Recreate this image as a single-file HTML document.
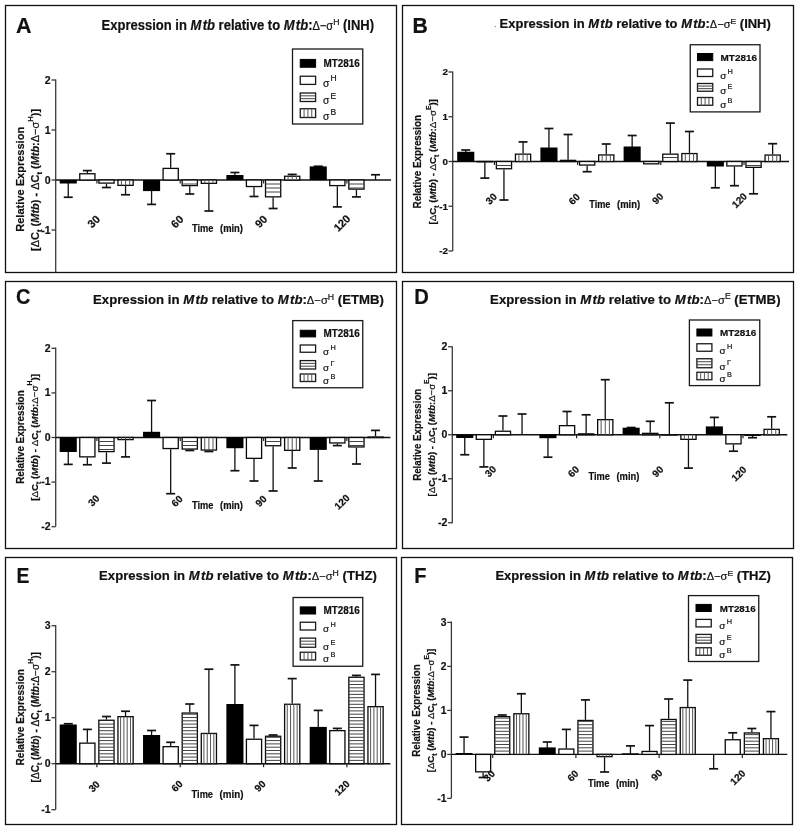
<!DOCTYPE html>
<html><head><meta charset="utf-8"><title>Figure</title>
<style>
html,body{margin:0;padding:0;background:#fff;}
body{width:800px;height:832px;overflow:hidden;}
svg{display:block;filter:blur(0.35px);font-family:"Liberation Sans", sans-serif;}
text{fill:#111;stroke:#111;stroke-width:0.2px;}
</style></head>
<body>
<svg width="800" height="832" viewBox="0 0 800 832">
<rect x="0" y="0" width="800" height="832" fill="#fff"/>
<g>
<rect x="5.50" y="5.50" width="391.00" height="267.00" fill="none" stroke="#111" stroke-width="1.3"/>
<text transform="translate(15.96,33) scale(1.0,1)" font-size="21.5" font-weight="bold">A</text>
<text x="101.6" y="30.4" font-size="14.8" font-weight="bold" textLength="272.5" lengthAdjust="spacingAndGlyphs">Expression in <tspan font-style="italic">M</tspan><tspan font-style="italic" dx="1.48">tb</tspan> relative to <tspan font-style="italic">M</tspan><tspan font-style="italic" dx="1.48">tb</tspan>:<tspan font-weight="normal" font-size="12.58">&#916;&#8722;&#963;</tspan><tspan font-size="9.8" font-weight="normal" dy="-5.18">H</tspan><tspan dy="5.18"> (INH)</tspan></text>
<rect x="292.50" y="49.00" width="70.25" height="75.00" fill="none" stroke="#1a1a1a" stroke-width="1.3"/>
<rect x="300.25" y="59.40" width="15.35" height="7.85" fill="#000" stroke="#000" stroke-width="1"/>
<rect x="300.25" y="76.25" width="15.35" height="8.15" fill="#fff" stroke="#1a1a1a" stroke-width="1.3"/>
<rect x="300.25" y="93.00" width="15.35" height="8.50" fill="#fff" stroke="#1a1a1a" stroke-width="1.3"/>
<line x1="300.25" y1="95.83" x2="315.60" y2="95.83" stroke="#444" stroke-width="1.0"/>
<line x1="300.25" y1="98.67" x2="315.60" y2="98.67" stroke="#444" stroke-width="1.0"/>
<rect x="300.25" y="108.75" width="15.35" height="8.75" fill="#fff" stroke="#1a1a1a" stroke-width="1.3"/>
<line x1="304.09" y1="108.75" x2="304.09" y2="117.50" stroke="#555" stroke-width="1.0"/>
<line x1="307.93" y1="108.75" x2="307.93" y2="117.50" stroke="#555" stroke-width="1.0"/>
<line x1="311.76" y1="108.75" x2="311.76" y2="117.50" stroke="#555" stroke-width="1.0"/>
<text x="323.50" y="67.25" font-size="10" font-weight="bold" font-style="normal" text-anchor="start" textLength="36.3" lengthAdjust="spacingAndGlyphs" >MT2816</text>
<text x="323.10" y="86.70" font-size="10.3" font-weight="normal" font-style="normal" text-anchor="start" >&#963;</text>
<text x="330.40" y="81.40" font-size="8.5" font-weight="normal" font-style="normal" text-anchor="start" >H</text>
<text x="323.10" y="103.80" font-size="10.3" font-weight="normal" font-style="normal" text-anchor="start" >&#963;</text>
<text x="330.40" y="98.50" font-size="8.5" font-weight="normal" font-style="normal" text-anchor="start" >E</text>
<text x="323.10" y="119.80" font-size="10.3" font-weight="normal" font-style="normal" text-anchor="start" >&#963;</text>
<text x="330.40" y="114.50" font-size="8.5" font-weight="normal" font-style="normal" text-anchor="start" >B</text>
<line x1="55.70" y1="79.40" x2="55.70" y2="272.50" stroke="#3a3a3a" stroke-width="1.3"/>
<line x1="51.50" y1="80.00" x2="55.70" y2="80.00" stroke="#3a3a3a" stroke-width="1.3"/>
<text transform="translate(50.7,83.71) scale(0.92,1)" font-size="11.5" font-weight="bold" text-anchor="end">2</text>
<line x1="51.50" y1="130.00" x2="55.70" y2="130.00" stroke="#3a3a3a" stroke-width="1.3"/>
<text transform="translate(50.7,133.71) scale(0.92,1)" font-size="11.5" font-weight="bold" text-anchor="end">1</text>
<line x1="51.50" y1="180.00" x2="55.70" y2="180.00" stroke="#3a3a3a" stroke-width="1.3"/>
<text transform="translate(50.7,183.71) scale(0.92,1)" font-size="11.5" font-weight="bold" text-anchor="end">0</text>
<line x1="51.50" y1="230.00" x2="55.70" y2="230.00" stroke="#3a3a3a" stroke-width="1.3"/>
<text transform="translate(50.7,233.71) scale(0.92,1)" font-size="11.5" font-weight="bold" text-anchor="end">-1</text>
<line x1="55.70" y1="180.00" x2="391.00" y2="180.00" stroke="#111" stroke-width="1.4"/>
<text transform="translate(24.1,179.3) rotate(-90)" text-anchor="middle" font-size="11" font-weight="bold" textLength="105" lengthAdjust="spacingAndGlyphs">Relative Expression</text>
<text transform="translate(39.2,179.9) rotate(-90)" text-anchor="middle" font-size="11" font-weight="bold" textLength="142" lengthAdjust="spacingAndGlyphs">[<tspan font-weight="normal">&#916;</tspan>C<tspan font-size="7.7" dy="2.5">t</tspan><tspan dy="-2.5"> (</tspan><tspan font-style="italic">Mtb</tspan>) - <tspan font-weight="normal">&#916;</tspan>C<tspan font-size="7.7" dy="2.5">t</tspan><tspan dy="-2.5"> (</tspan><tspan font-style="italic">Mtb</tspan>:<tspan font-weight="normal">&#916;&#8722;&#963;</tspan><tspan font-size="7.7" dy="-6.54">H</tspan><tspan dy="6.54">)]</tspan></text>
<line x1="68.25" y1="183.00" x2="68.25" y2="197.25" stroke="#111" stroke-width="1.3"/>
<line x1="63.75" y1="197.25" x2="72.75" y2="197.25" stroke="#111" stroke-width="1.7"/>
<rect x="59.70" y="180.00" width="17.10" height="3.50" fill="#000"/>
<line x1="87.35" y1="173.10" x2="87.35" y2="170.60" stroke="#111" stroke-width="1.3"/>
<line x1="82.85" y1="170.60" x2="91.85" y2="170.60" stroke="#111" stroke-width="1.7"/>
<rect x="79.75" y="173.75" width="15.20" height="6.25" fill="#fff" stroke="#0a0a0a" stroke-width="1.3"/>
<line x1="106.45" y1="183.75" x2="106.45" y2="187.50" stroke="#111" stroke-width="1.3"/>
<line x1="101.95" y1="187.50" x2="110.95" y2="187.50" stroke="#111" stroke-width="1.7"/>
<rect x="98.85" y="180.00" width="15.20" height="3.10" fill="#fff" stroke="#0a0a0a" stroke-width="1.3"/>
<line x1="125.55" y1="186.00" x2="125.55" y2="194.75" stroke="#111" stroke-width="1.3"/>
<line x1="121.05" y1="194.75" x2="130.05" y2="194.75" stroke="#111" stroke-width="1.7"/>
<rect x="117.95" y="180.00" width="15.20" height="5.35" fill="#fff" stroke="#0a0a0a" stroke-width="1.3"/>
<line x1="121.43" y1="180.00" x2="121.43" y2="185.35" stroke="#555" stroke-width="1.0"/>
<line x1="125.55" y1="180.00" x2="125.55" y2="185.35" stroke="#555" stroke-width="1.0"/>
<line x1="129.68" y1="180.00" x2="129.68" y2="185.35" stroke="#555" stroke-width="1.0"/>
<line x1="96.90" y1="180.00" x2="96.90" y2="183.50" stroke="#222" stroke-width="1.2"/>
<line x1="151.58" y1="190.60" x2="151.58" y2="204.40" stroke="#111" stroke-width="1.3"/>
<line x1="147.08" y1="204.40" x2="156.08" y2="204.40" stroke="#111" stroke-width="1.7"/>
<rect x="143.03" y="180.00" width="17.10" height="11.10" fill="#000"/>
<line x1="170.68" y1="167.75" x2="170.68" y2="153.75" stroke="#111" stroke-width="1.3"/>
<line x1="166.18" y1="153.75" x2="175.18" y2="153.75" stroke="#111" stroke-width="1.7"/>
<rect x="163.08" y="168.40" width="15.20" height="11.60" fill="#fff" stroke="#0a0a0a" stroke-width="1.3"/>
<line x1="189.78" y1="186.25" x2="189.78" y2="194.00" stroke="#111" stroke-width="1.3"/>
<line x1="185.28" y1="194.00" x2="194.28" y2="194.00" stroke="#111" stroke-width="1.7"/>
<rect x="182.18" y="180.00" width="15.20" height="5.60" fill="#fff" stroke="#0a0a0a" stroke-width="1.3"/>
<line x1="182.18" y1="184.00" x2="197.38" y2="184.00" stroke="#444" stroke-width="1.0"/>
<line x1="208.88" y1="184.00" x2="208.88" y2="211.00" stroke="#111" stroke-width="1.3"/>
<line x1="204.38" y1="211.00" x2="213.38" y2="211.00" stroke="#111" stroke-width="1.7"/>
<rect x="201.28" y="180.00" width="15.20" height="3.35" fill="#fff" stroke="#0a0a0a" stroke-width="1.3"/>
<line x1="204.75" y1="180.00" x2="204.75" y2="183.35" stroke="#555" stroke-width="1.0"/>
<line x1="208.88" y1="180.00" x2="208.88" y2="183.35" stroke="#555" stroke-width="1.0"/>
<line x1="213.00" y1="180.00" x2="213.00" y2="183.35" stroke="#555" stroke-width="1.0"/>
<line x1="180.23" y1="180.00" x2="180.23" y2="183.50" stroke="#222" stroke-width="1.2"/>
<line x1="234.91" y1="175.50" x2="234.91" y2="172.50" stroke="#111" stroke-width="1.3"/>
<line x1="230.41" y1="172.50" x2="239.41" y2="172.50" stroke="#111" stroke-width="1.7"/>
<rect x="226.36" y="175.00" width="17.10" height="5.00" fill="#000"/>
<line x1="254.01" y1="187.20" x2="254.01" y2="196.50" stroke="#111" stroke-width="1.3"/>
<line x1="249.51" y1="196.50" x2="258.51" y2="196.50" stroke="#111" stroke-width="1.7"/>
<rect x="246.41" y="180.00" width="15.20" height="6.55" fill="#fff" stroke="#0a0a0a" stroke-width="1.3"/>
<line x1="273.11" y1="197.50" x2="273.11" y2="208.50" stroke="#111" stroke-width="1.3"/>
<line x1="268.61" y1="208.50" x2="277.61" y2="208.50" stroke="#111" stroke-width="1.7"/>
<rect x="265.51" y="180.00" width="15.20" height="16.85" fill="#fff" stroke="#0a0a0a" stroke-width="1.3"/>
<line x1="265.51" y1="184.00" x2="280.71" y2="184.00" stroke="#444" stroke-width="1.0"/>
<line x1="265.51" y1="188.00" x2="280.71" y2="188.00" stroke="#444" stroke-width="1.0"/>
<line x1="265.51" y1="192.00" x2="280.71" y2="192.00" stroke="#444" stroke-width="1.0"/>
<line x1="292.21" y1="175.60" x2="292.21" y2="174.40" stroke="#111" stroke-width="1.3"/>
<line x1="287.71" y1="174.40" x2="296.71" y2="174.40" stroke="#111" stroke-width="1.7"/>
<rect x="284.61" y="176.25" width="15.20" height="3.75" fill="#fff" stroke="#0a0a0a" stroke-width="1.3"/>
<line x1="288.08" y1="176.25" x2="288.08" y2="180.00" stroke="#555" stroke-width="1.0"/>
<line x1="292.21" y1="176.25" x2="292.21" y2="180.00" stroke="#555" stroke-width="1.0"/>
<line x1="296.33" y1="176.25" x2="296.33" y2="180.00" stroke="#555" stroke-width="1.0"/>
<line x1="263.56" y1="180.00" x2="263.56" y2="183.50" stroke="#222" stroke-width="1.2"/>
<line x1="318.24" y1="166.90" x2="318.24" y2="166.25" stroke="#111" stroke-width="1.3"/>
<line x1="313.74" y1="166.25" x2="322.74" y2="166.25" stroke="#111" stroke-width="1.7"/>
<rect x="309.69" y="166.40" width="17.10" height="13.60" fill="#000"/>
<line x1="337.34" y1="186.25" x2="337.34" y2="206.90" stroke="#111" stroke-width="1.3"/>
<line x1="332.84" y1="206.90" x2="341.84" y2="206.90" stroke="#111" stroke-width="1.7"/>
<rect x="329.74" y="180.00" width="15.20" height="5.60" fill="#fff" stroke="#0a0a0a" stroke-width="1.3"/>
<line x1="356.44" y1="189.75" x2="356.44" y2="196.90" stroke="#111" stroke-width="1.3"/>
<line x1="351.94" y1="196.90" x2="360.94" y2="196.90" stroke="#111" stroke-width="1.7"/>
<rect x="348.84" y="180.00" width="15.20" height="9.10" fill="#fff" stroke="#0a0a0a" stroke-width="1.3"/>
<line x1="348.84" y1="184.00" x2="364.04" y2="184.00" stroke="#444" stroke-width="1.0"/>
<line x1="348.84" y1="188.00" x2="364.04" y2="188.00" stroke="#444" stroke-width="1.0"/>
<line x1="375.54" y1="180.00" x2="375.54" y2="174.75" stroke="#111" stroke-width="1.3"/>
<line x1="371.04" y1="174.75" x2="380.04" y2="174.75" stroke="#111" stroke-width="1.7"/>
<line x1="346.89" y1="180.00" x2="346.89" y2="183.50" stroke="#222" stroke-width="1.2"/>
<text transform="translate(93.7,221.5) rotate(-45)" text-anchor="middle" dy="3.84" font-size="11" font-weight="bold">30</text>
<text transform="translate(177.2,221.6) rotate(-45)" text-anchor="middle" dy="3.84" font-size="11" font-weight="bold">60</text>
<text transform="translate(261,221.5) rotate(-45)" text-anchor="middle" dy="3.84" font-size="11" font-weight="bold">90</text>
<text transform="translate(341.9,223.1) rotate(-45)" text-anchor="middle" dy="3.84" font-size="11" font-weight="bold">120</text>
<text x="192.00" y="231.50" font-size="10" font-weight="bold" font-style="normal" text-anchor="start" textLength="21.5" lengthAdjust="spacingAndGlyphs" >Time</text>
<text x="220.00" y="231.50" font-size="10" font-weight="bold" font-style="normal" text-anchor="start" textLength="23" lengthAdjust="spacingAndGlyphs" >(min)</text>
</g>
<g>
<rect x="402.50" y="5.50" width="391.00" height="267.00" fill="none" stroke="#111" stroke-width="1.3"/>
<text transform="translate(412.56,32.8) scale(0.985,1)" font-size="21.5" font-weight="bold">B</text>
<text x="499.6" y="28.0" font-size="12.2" font-weight="bold" textLength="271.2" lengthAdjust="spacingAndGlyphs">Expression in <tspan font-style="italic">M</tspan><tspan font-style="italic" dx="1.22">tb</tspan> relative to <tspan font-style="italic">M</tspan><tspan font-style="italic" dx="1.22">tb</tspan>:<tspan font-weight="normal" font-size="10.37">&#916;&#8722;&#963;</tspan><tspan font-size="8.1" font-weight="normal" dy="-4.27">E</tspan><tspan dy="4.27"> (INH)</tspan></text>
<circle cx="495.3" cy="26.6" r="0.7" fill="#777"/>
<rect x="690.25" y="44.75" width="69.75" height="67.15" fill="none" stroke="#1a1a1a" stroke-width="1.3"/>
<rect x="697.50" y="53.50" width="15.25" height="7.10" fill="#000" stroke="#000" stroke-width="1"/>
<rect x="697.50" y="69.00" width="15.25" height="7.50" fill="#fff" stroke="#1a1a1a" stroke-width="1.3"/>
<rect x="697.50" y="83.50" width="15.25" height="7.75" fill="#fff" stroke="#1a1a1a" stroke-width="1.3"/>
<line x1="697.50" y1="86.08" x2="712.75" y2="86.08" stroke="#444" stroke-width="1.0"/>
<line x1="697.50" y1="88.67" x2="712.75" y2="88.67" stroke="#444" stroke-width="1.0"/>
<rect x="697.50" y="97.50" width="15.25" height="7.75" fill="#fff" stroke="#1a1a1a" stroke-width="1.3"/>
<line x1="701.31" y1="97.50" x2="701.31" y2="105.25" stroke="#555" stroke-width="1.0"/>
<line x1="705.12" y1="97.50" x2="705.12" y2="105.25" stroke="#555" stroke-width="1.0"/>
<line x1="708.94" y1="97.50" x2="708.94" y2="105.25" stroke="#555" stroke-width="1.0"/>
<text x="720.60" y="60.60" font-size="9.5" font-weight="bold" font-style="normal" text-anchor="start" textLength="36.3" lengthAdjust="spacingAndGlyphs" >MT2816</text>
<text x="720.20" y="78.80" font-size="9.8" font-weight="normal" font-style="normal" text-anchor="start" >&#963;</text>
<text x="727.50" y="73.80" font-size="7.3" font-weight="normal" font-style="normal" text-anchor="start" >H</text>
<text x="720.20" y="93.55" font-size="9.8" font-weight="normal" font-style="normal" text-anchor="start" >&#963;</text>
<text x="727.50" y="88.55" font-size="7.3" font-weight="normal" font-style="normal" text-anchor="start" >E</text>
<text x="720.20" y="107.55" font-size="9.8" font-weight="normal" font-style="normal" text-anchor="start" >&#963;</text>
<text x="727.50" y="102.55" font-size="7.3" font-weight="normal" font-style="normal" text-anchor="start" >B</text>
<line x1="452.70" y1="71.40" x2="452.70" y2="251.00" stroke="#3a3a3a" stroke-width="1.3"/>
<line x1="448.50" y1="72.00" x2="452.70" y2="72.00" stroke="#3a3a3a" stroke-width="1.3"/>
<text transform="translate(447.9,75.42) scale(1.0,1)" font-size="9.8" font-weight="bold" text-anchor="end">2</text>
<line x1="448.50" y1="116.75" x2="452.70" y2="116.75" stroke="#3a3a3a" stroke-width="1.3"/>
<text transform="translate(447.9,120.17) scale(1.0,1)" font-size="9.8" font-weight="bold" text-anchor="end">1</text>
<line x1="448.50" y1="161.50" x2="452.70" y2="161.50" stroke="#3a3a3a" stroke-width="1.3"/>
<text transform="translate(447.9,164.92) scale(1.0,1)" font-size="9.8" font-weight="bold" text-anchor="end">0</text>
<line x1="448.50" y1="206.25" x2="452.70" y2="206.25" stroke="#3a3a3a" stroke-width="1.3"/>
<text transform="translate(447.9,209.67) scale(1.0,1)" font-size="9.8" font-weight="bold" text-anchor="end">-1</text>
<line x1="448.50" y1="251.00" x2="452.70" y2="251.00" stroke="#3a3a3a" stroke-width="1.3"/>
<text transform="translate(447.9,254.42) scale(1.0,1)" font-size="9.8" font-weight="bold" text-anchor="end">-2</text>
<line x1="452.70" y1="161.50" x2="789.00" y2="161.50" stroke="#111" stroke-width="1.4"/>
<text transform="translate(421.2,161.7) rotate(-90)" text-anchor="middle" font-size="10" font-weight="bold" textLength="93.5" lengthAdjust="spacingAndGlyphs">Relative Expression</text>
<text transform="translate(436.2,161.8) rotate(-90)" text-anchor="middle" font-size="9.5" font-weight="bold" textLength="125.3" lengthAdjust="spacingAndGlyphs">[<tspan font-weight="normal">&#916;</tspan>C<tspan font-size="6.6" dy="2.5">t</tspan><tspan dy="-2.5"> (</tspan><tspan font-style="italic">Mtb</tspan>) - <tspan font-weight="normal">&#916;</tspan>C<tspan font-size="6.6" dy="2.5">t</tspan><tspan dy="-2.5"> (</tspan><tspan font-style="italic">Mtb</tspan>:<tspan font-weight="normal">&#916;&#8722;&#963;</tspan><tspan font-size="6.6" dy="-5.61">E</tspan><tspan dy="5.61">)]</tspan></text>
<line x1="465.75" y1="152.25" x2="465.75" y2="150.00" stroke="#111" stroke-width="1.3"/>
<line x1="461.25" y1="150.00" x2="470.25" y2="150.00" stroke="#111" stroke-width="1.7"/>
<rect x="457.20" y="151.75" width="17.10" height="9.75" fill="#000"/>
<line x1="484.85" y1="162.30" x2="484.85" y2="178.10" stroke="#111" stroke-width="1.3"/>
<line x1="480.35" y1="178.10" x2="489.35" y2="178.10" stroke="#111" stroke-width="1.7"/>
<rect x="477.25" y="161.50" width="15.20" height="0.30" fill="#fff" stroke="#0a0a0a" stroke-width="1.3"/>
<line x1="503.95" y1="169.40" x2="503.95" y2="200.00" stroke="#111" stroke-width="1.3"/>
<line x1="499.45" y1="200.00" x2="508.45" y2="200.00" stroke="#111" stroke-width="1.7"/>
<rect x="496.35" y="161.50" width="15.20" height="7.25" fill="#fff" stroke="#0a0a0a" stroke-width="1.3"/>
<line x1="496.35" y1="165.50" x2="511.55" y2="165.50" stroke="#444" stroke-width="1.0"/>
<line x1="523.05" y1="153.50" x2="523.05" y2="141.90" stroke="#111" stroke-width="1.3"/>
<line x1="518.55" y1="141.90" x2="527.55" y2="141.90" stroke="#111" stroke-width="1.7"/>
<rect x="515.45" y="154.15" width="15.20" height="7.35" fill="#fff" stroke="#0a0a0a" stroke-width="1.3"/>
<line x1="518.92" y1="154.15" x2="518.92" y2="161.50" stroke="#555" stroke-width="1.0"/>
<line x1="523.05" y1="154.15" x2="523.05" y2="161.50" stroke="#555" stroke-width="1.0"/>
<line x1="527.17" y1="154.15" x2="527.17" y2="161.50" stroke="#555" stroke-width="1.0"/>
<line x1="494.40" y1="161.50" x2="494.40" y2="165.00" stroke="#222" stroke-width="1.2"/>
<line x1="548.95" y1="148.00" x2="548.95" y2="128.50" stroke="#111" stroke-width="1.3"/>
<line x1="544.45" y1="128.50" x2="553.45" y2="128.50" stroke="#111" stroke-width="1.7"/>
<rect x="540.40" y="147.50" width="17.10" height="14.00" fill="#000"/>
<line x1="568.05" y1="159.70" x2="568.05" y2="134.50" stroke="#111" stroke-width="1.3"/>
<line x1="563.55" y1="134.50" x2="572.55" y2="134.50" stroke="#111" stroke-width="1.7"/>
<rect x="560.45" y="160.35" width="15.20" height="1.15" fill="#fff" stroke="#0a0a0a" stroke-width="1.3"/>
<line x1="587.15" y1="165.70" x2="587.15" y2="171.70" stroke="#111" stroke-width="1.3"/>
<line x1="582.65" y1="171.70" x2="591.65" y2="171.70" stroke="#111" stroke-width="1.7"/>
<rect x="579.55" y="161.50" width="15.20" height="3.55" fill="#fff" stroke="#0a0a0a" stroke-width="1.3"/>
<line x1="606.25" y1="154.30" x2="606.25" y2="144.00" stroke="#111" stroke-width="1.3"/>
<line x1="601.75" y1="144.00" x2="610.75" y2="144.00" stroke="#111" stroke-width="1.7"/>
<rect x="598.65" y="154.95" width="15.20" height="6.55" fill="#fff" stroke="#0a0a0a" stroke-width="1.3"/>
<line x1="602.12" y1="154.95" x2="602.12" y2="161.50" stroke="#555" stroke-width="1.0"/>
<line x1="606.25" y1="154.95" x2="606.25" y2="161.50" stroke="#555" stroke-width="1.0"/>
<line x1="610.38" y1="154.95" x2="610.38" y2="161.50" stroke="#555" stroke-width="1.0"/>
<line x1="577.60" y1="161.50" x2="577.60" y2="165.00" stroke="#222" stroke-width="1.2"/>
<line x1="632.15" y1="147.00" x2="632.15" y2="135.50" stroke="#111" stroke-width="1.3"/>
<line x1="627.65" y1="135.50" x2="636.65" y2="135.50" stroke="#111" stroke-width="1.7"/>
<rect x="623.60" y="146.50" width="17.10" height="15.00" fill="#000"/>
<rect x="643.65" y="161.50" width="15.20" height="2.35" fill="#fff" stroke="#0a0a0a" stroke-width="1.3"/>
<line x1="670.35" y1="153.50" x2="670.35" y2="123.10" stroke="#111" stroke-width="1.3"/>
<line x1="665.85" y1="123.10" x2="674.85" y2="123.10" stroke="#111" stroke-width="1.7"/>
<rect x="662.75" y="154.15" width="15.20" height="7.35" fill="#fff" stroke="#0a0a0a" stroke-width="1.3"/>
<line x1="662.75" y1="157.50" x2="677.95" y2="157.50" stroke="#444" stroke-width="1.0"/>
<line x1="689.45" y1="152.90" x2="689.45" y2="131.50" stroke="#111" stroke-width="1.3"/>
<line x1="684.95" y1="131.50" x2="693.95" y2="131.50" stroke="#111" stroke-width="1.7"/>
<rect x="681.85" y="153.55" width="15.20" height="7.95" fill="#fff" stroke="#0a0a0a" stroke-width="1.3"/>
<line x1="685.32" y1="153.55" x2="685.32" y2="161.50" stroke="#555" stroke-width="1.0"/>
<line x1="689.45" y1="153.55" x2="689.45" y2="161.50" stroke="#555" stroke-width="1.0"/>
<line x1="693.57" y1="153.55" x2="693.57" y2="161.50" stroke="#555" stroke-width="1.0"/>
<line x1="660.80" y1="161.50" x2="660.80" y2="165.00" stroke="#222" stroke-width="1.2"/>
<line x1="715.35" y1="166.00" x2="715.35" y2="187.80" stroke="#111" stroke-width="1.3"/>
<line x1="710.85" y1="187.80" x2="719.85" y2="187.80" stroke="#111" stroke-width="1.7"/>
<rect x="706.80" y="161.50" width="17.10" height="5.00" fill="#000"/>
<line x1="734.45" y1="166.60" x2="734.45" y2="185.70" stroke="#111" stroke-width="1.3"/>
<line x1="729.95" y1="185.70" x2="738.95" y2="185.70" stroke="#111" stroke-width="1.7"/>
<rect x="726.85" y="161.50" width="15.20" height="4.45" fill="#fff" stroke="#0a0a0a" stroke-width="1.3"/>
<line x1="753.55" y1="168.00" x2="753.55" y2="193.80" stroke="#111" stroke-width="1.3"/>
<line x1="749.05" y1="193.80" x2="758.05" y2="193.80" stroke="#111" stroke-width="1.7"/>
<rect x="745.95" y="161.50" width="15.20" height="5.85" fill="#fff" stroke="#0a0a0a" stroke-width="1.3"/>
<line x1="745.95" y1="165.50" x2="761.15" y2="165.50" stroke="#444" stroke-width="1.0"/>
<line x1="772.65" y1="154.40" x2="772.65" y2="143.70" stroke="#111" stroke-width="1.3"/>
<line x1="768.15" y1="143.70" x2="777.15" y2="143.70" stroke="#111" stroke-width="1.7"/>
<rect x="765.05" y="155.05" width="15.20" height="6.45" fill="#fff" stroke="#0a0a0a" stroke-width="1.3"/>
<line x1="768.52" y1="155.05" x2="768.52" y2="161.50" stroke="#555" stroke-width="1.0"/>
<line x1="772.65" y1="155.05" x2="772.65" y2="161.50" stroke="#555" stroke-width="1.0"/>
<line x1="776.77" y1="155.05" x2="776.77" y2="161.50" stroke="#555" stroke-width="1.0"/>
<line x1="744.00" y1="161.50" x2="744.00" y2="165.00" stroke="#222" stroke-width="1.2"/>
<text transform="translate(491.3,198.8) rotate(-45)" text-anchor="middle" dy="3.49" font-size="10" font-weight="bold">30</text>
<text transform="translate(574.2,199) rotate(-45)" text-anchor="middle" dy="3.49" font-size="10" font-weight="bold">60</text>
<text transform="translate(657.8,198.5) rotate(-45)" text-anchor="middle" dy="3.49" font-size="10" font-weight="bold">90</text>
<text transform="translate(739.4,200.4) rotate(-45)" text-anchor="middle" dy="3.49" font-size="10" font-weight="bold">120</text>
<text x="589.20" y="207.60" font-size="10" font-weight="bold" font-style="normal" text-anchor="start" textLength="21.3" lengthAdjust="spacingAndGlyphs" >Time</text>
<text x="617.00" y="207.60" font-size="10" font-weight="bold" font-style="normal" text-anchor="start" textLength="23.2" lengthAdjust="spacingAndGlyphs" >(min)</text>
</g>
<g>
<rect x="5.50" y="281.50" width="391.00" height="267.00" fill="none" stroke="#111" stroke-width="1.3"/>
<text transform="translate(16.1,304.4) scale(0.93,1)" font-size="21.5" font-weight="bold">C</text>
<text x="93.0" y="304.1" font-size="13" font-weight="bold" textLength="291" lengthAdjust="spacingAndGlyphs">Expression in <tspan font-style="italic">M</tspan><tspan font-style="italic" dx="1.30">tb</tspan> relative to <tspan font-style="italic">M</tspan><tspan font-style="italic" dx="1.30">tb</tspan>:<tspan font-weight="normal" font-size="11.05">&#916;&#8722;&#963;</tspan><tspan font-size="8.6" font-weight="normal" dy="-4.55">H</tspan><tspan dy="4.55"> (ETMB)</tspan></text>
<rect x="292.75" y="320.60" width="70.00" height="67.15" fill="none" stroke="#1a1a1a" stroke-width="1.3"/>
<rect x="300.25" y="330.25" width="15.35" height="6.65" fill="#000" stroke="#000" stroke-width="1"/>
<rect x="300.25" y="345.00" width="15.35" height="7.25" fill="#fff" stroke="#1a1a1a" stroke-width="1.3"/>
<rect x="300.25" y="360.60" width="15.35" height="8.40" fill="#fff" stroke="#1a1a1a" stroke-width="1.3"/>
<line x1="300.25" y1="363.40" x2="315.60" y2="363.40" stroke="#444" stroke-width="1.0"/>
<line x1="300.25" y1="366.20" x2="315.60" y2="366.20" stroke="#444" stroke-width="1.0"/>
<rect x="300.25" y="374.00" width="15.35" height="7.50" fill="#fff" stroke="#1a1a1a" stroke-width="1.3"/>
<line x1="304.09" y1="374.00" x2="304.09" y2="381.50" stroke="#555" stroke-width="1.0"/>
<line x1="307.93" y1="374.00" x2="307.93" y2="381.50" stroke="#555" stroke-width="1.0"/>
<line x1="311.76" y1="374.00" x2="311.76" y2="381.50" stroke="#555" stroke-width="1.0"/>
<text x="323.50" y="336.90" font-size="10" font-weight="bold" font-style="normal" text-anchor="start" textLength="36.3" lengthAdjust="spacingAndGlyphs" >MT2816</text>
<text x="323.10" y="354.55" font-size="9.8" font-weight="normal" font-style="normal" text-anchor="start" >&#963;</text>
<text x="330.40" y="349.55" font-size="7.3" font-weight="normal" font-style="normal" text-anchor="start" >H</text>
<text x="323.10" y="371.30" font-size="9.8" font-weight="normal" font-style="normal" text-anchor="start" >&#963;</text>
<text x="330.40" y="366.30" font-size="7.3" font-weight="normal" font-style="normal" text-anchor="start" >&#915;</text>
<text x="323.10" y="383.80" font-size="9.8" font-weight="normal" font-style="normal" text-anchor="start" >&#963;</text>
<text x="330.40" y="378.80" font-size="7.3" font-weight="normal" font-style="normal" text-anchor="start" >B</text>
<line x1="55.70" y1="347.60" x2="55.70" y2="526.50" stroke="#3a3a3a" stroke-width="1.3"/>
<line x1="51.50" y1="348.30" x2="55.70" y2="348.30" stroke="#3a3a3a" stroke-width="1.3"/>
<text transform="translate(50.7,351.66) scale(1.0,1)" font-size="10.5" font-weight="bold" text-anchor="end">2</text>
<line x1="51.50" y1="392.90" x2="55.70" y2="392.90" stroke="#3a3a3a" stroke-width="1.3"/>
<text transform="translate(50.7,396.26) scale(1.0,1)" font-size="10.5" font-weight="bold" text-anchor="end">1</text>
<line x1="51.50" y1="437.50" x2="55.70" y2="437.50" stroke="#3a3a3a" stroke-width="1.3"/>
<text transform="translate(50.7,440.86) scale(1.0,1)" font-size="10.5" font-weight="bold" text-anchor="end">0</text>
<line x1="51.50" y1="482.10" x2="55.70" y2="482.10" stroke="#3a3a3a" stroke-width="1.3"/>
<text transform="translate(50.7,485.46) scale(1.0,1)" font-size="10.5" font-weight="bold" text-anchor="end">-1</text>
<line x1="51.50" y1="526.70" x2="55.70" y2="526.70" stroke="#3a3a3a" stroke-width="1.3"/>
<text transform="translate(50.7,530.06) scale(1.0,1)" font-size="10.5" font-weight="bold" text-anchor="end">-2</text>
<line x1="55.70" y1="437.50" x2="390.40" y2="437.50" stroke="#111" stroke-width="1.4"/>
<text transform="translate(24.0,437.1) rotate(-90)" text-anchor="middle" font-size="11" font-weight="bold" textLength="93.5" lengthAdjust="spacingAndGlyphs">Relative Expression</text>
<text transform="translate(38.2,437.45) rotate(-90)" text-anchor="middle" font-size="9.8" font-weight="bold" textLength="126.8" lengthAdjust="spacingAndGlyphs">[<tspan font-weight="normal">&#916;</tspan>C<tspan font-size="6.9" dy="2.5">t</tspan><tspan dy="-2.5"> (</tspan><tspan font-style="italic">Mtb</tspan>) - <tspan font-weight="normal">&#916;</tspan>C<tspan font-size="6.9" dy="2.5">t</tspan><tspan dy="-2.5"> (</tspan><tspan font-style="italic">Mtb</tspan>:<tspan font-weight="normal">&#916;&#8722;&#963;</tspan><tspan font-size="6.9" dy="-5.87">H</tspan><tspan dy="5.87">)]</tspan></text>
<line x1="68.25" y1="451.50" x2="68.25" y2="464.40" stroke="#111" stroke-width="1.3"/>
<line x1="63.75" y1="464.40" x2="72.75" y2="464.40" stroke="#111" stroke-width="1.7"/>
<rect x="59.70" y="437.50" width="17.10" height="14.50" fill="#000"/>
<line x1="87.35" y1="457.50" x2="87.35" y2="464.75" stroke="#111" stroke-width="1.3"/>
<line x1="82.85" y1="464.75" x2="91.85" y2="464.75" stroke="#111" stroke-width="1.7"/>
<rect x="79.75" y="437.50" width="15.20" height="19.35" fill="#fff" stroke="#0a0a0a" stroke-width="1.3"/>
<line x1="106.45" y1="452.25" x2="106.45" y2="463.10" stroke="#111" stroke-width="1.3"/>
<line x1="101.95" y1="463.10" x2="110.95" y2="463.10" stroke="#111" stroke-width="1.7"/>
<rect x="98.85" y="437.50" width="15.20" height="14.10" fill="#fff" stroke="#0a0a0a" stroke-width="1.3"/>
<line x1="98.85" y1="441.50" x2="114.05" y2="441.50" stroke="#444" stroke-width="1.0"/>
<line x1="98.85" y1="445.50" x2="114.05" y2="445.50" stroke="#444" stroke-width="1.0"/>
<line x1="98.85" y1="449.50" x2="114.05" y2="449.50" stroke="#444" stroke-width="1.0"/>
<line x1="125.55" y1="440.25" x2="125.55" y2="456.90" stroke="#111" stroke-width="1.3"/>
<line x1="121.05" y1="456.90" x2="130.05" y2="456.90" stroke="#111" stroke-width="1.7"/>
<rect x="117.95" y="437.50" width="15.20" height="2.10" fill="#fff" stroke="#0a0a0a" stroke-width="1.3"/>
<line x1="121.43" y1="437.50" x2="121.43" y2="439.60" stroke="#555" stroke-width="1.0"/>
<line x1="125.55" y1="437.50" x2="125.55" y2="439.60" stroke="#555" stroke-width="1.0"/>
<line x1="129.68" y1="437.50" x2="129.68" y2="439.60" stroke="#555" stroke-width="1.0"/>
<line x1="96.90" y1="437.50" x2="96.90" y2="441.00" stroke="#222" stroke-width="1.2"/>
<line x1="151.58" y1="432.30" x2="151.58" y2="400.50" stroke="#111" stroke-width="1.3"/>
<line x1="147.08" y1="400.50" x2="156.08" y2="400.50" stroke="#111" stroke-width="1.7"/>
<rect x="143.03" y="431.80" width="17.10" height="5.70" fill="#000"/>
<line x1="170.68" y1="449.20" x2="170.68" y2="493.70" stroke="#111" stroke-width="1.3"/>
<line x1="166.18" y1="493.70" x2="175.18" y2="493.70" stroke="#111" stroke-width="1.7"/>
<rect x="163.08" y="437.50" width="15.20" height="11.05" fill="#fff" stroke="#0a0a0a" stroke-width="1.3"/>
<line x1="189.78" y1="449.70" x2="189.78" y2="450.50" stroke="#111" stroke-width="1.3"/>
<line x1="185.28" y1="450.50" x2="194.28" y2="450.50" stroke="#111" stroke-width="1.7"/>
<rect x="182.18" y="437.50" width="15.20" height="11.55" fill="#fff" stroke="#0a0a0a" stroke-width="1.3"/>
<line x1="182.18" y1="441.50" x2="197.38" y2="441.50" stroke="#444" stroke-width="1.0"/>
<line x1="182.18" y1="445.50" x2="197.38" y2="445.50" stroke="#444" stroke-width="1.0"/>
<line x1="208.88" y1="450.70" x2="208.88" y2="451.50" stroke="#111" stroke-width="1.3"/>
<line x1="204.38" y1="451.50" x2="213.38" y2="451.50" stroke="#111" stroke-width="1.7"/>
<rect x="201.28" y="437.50" width="15.20" height="12.55" fill="#fff" stroke="#0a0a0a" stroke-width="1.3"/>
<line x1="204.75" y1="437.50" x2="204.75" y2="450.05" stroke="#555" stroke-width="1.0"/>
<line x1="208.88" y1="437.50" x2="208.88" y2="450.05" stroke="#555" stroke-width="1.0"/>
<line x1="213.00" y1="437.50" x2="213.00" y2="450.05" stroke="#555" stroke-width="1.0"/>
<line x1="180.23" y1="437.50" x2="180.23" y2="441.00" stroke="#222" stroke-width="1.2"/>
<line x1="234.91" y1="447.70" x2="234.91" y2="470.70" stroke="#111" stroke-width="1.3"/>
<line x1="230.41" y1="470.70" x2="239.41" y2="470.70" stroke="#111" stroke-width="1.7"/>
<rect x="226.36" y="437.50" width="17.10" height="10.70" fill="#000"/>
<line x1="254.01" y1="459.00" x2="254.01" y2="481.00" stroke="#111" stroke-width="1.3"/>
<line x1="249.51" y1="481.00" x2="258.51" y2="481.00" stroke="#111" stroke-width="1.7"/>
<rect x="246.41" y="437.50" width="15.20" height="20.85" fill="#fff" stroke="#0a0a0a" stroke-width="1.3"/>
<line x1="273.11" y1="446.40" x2="273.11" y2="491.00" stroke="#111" stroke-width="1.3"/>
<line x1="268.61" y1="491.00" x2="277.61" y2="491.00" stroke="#111" stroke-width="1.7"/>
<rect x="265.51" y="437.50" width="15.20" height="8.25" fill="#fff" stroke="#0a0a0a" stroke-width="1.3"/>
<line x1="265.51" y1="441.50" x2="280.71" y2="441.50" stroke="#444" stroke-width="1.0"/>
<line x1="292.21" y1="451.00" x2="292.21" y2="468.00" stroke="#111" stroke-width="1.3"/>
<line x1="287.71" y1="468.00" x2="296.71" y2="468.00" stroke="#111" stroke-width="1.7"/>
<rect x="284.61" y="437.50" width="15.20" height="12.85" fill="#fff" stroke="#0a0a0a" stroke-width="1.3"/>
<line x1="288.08" y1="437.50" x2="288.08" y2="450.35" stroke="#555" stroke-width="1.0"/>
<line x1="292.21" y1="437.50" x2="292.21" y2="450.35" stroke="#555" stroke-width="1.0"/>
<line x1="296.33" y1="437.50" x2="296.33" y2="450.35" stroke="#555" stroke-width="1.0"/>
<line x1="263.56" y1="437.50" x2="263.56" y2="441.00" stroke="#222" stroke-width="1.2"/>
<line x1="318.24" y1="449.40" x2="318.24" y2="481.00" stroke="#111" stroke-width="1.3"/>
<line x1="313.74" y1="481.00" x2="322.74" y2="481.00" stroke="#111" stroke-width="1.7"/>
<rect x="309.69" y="437.50" width="17.10" height="12.40" fill="#000"/>
<line x1="337.34" y1="443.60" x2="337.34" y2="445.60" stroke="#111" stroke-width="1.3"/>
<line x1="332.84" y1="445.60" x2="341.84" y2="445.60" stroke="#111" stroke-width="1.7"/>
<rect x="329.74" y="437.50" width="15.20" height="5.45" fill="#fff" stroke="#0a0a0a" stroke-width="1.3"/>
<line x1="356.44" y1="447.60" x2="356.44" y2="464.00" stroke="#111" stroke-width="1.3"/>
<line x1="351.94" y1="464.00" x2="360.94" y2="464.00" stroke="#111" stroke-width="1.7"/>
<rect x="348.84" y="437.50" width="15.20" height="9.45" fill="#fff" stroke="#0a0a0a" stroke-width="1.3"/>
<line x1="348.84" y1="441.50" x2="364.04" y2="441.50" stroke="#444" stroke-width="1.0"/>
<line x1="348.84" y1="445.50" x2="364.04" y2="445.50" stroke="#444" stroke-width="1.0"/>
<line x1="375.54" y1="436.40" x2="375.54" y2="430.40" stroke="#111" stroke-width="1.3"/>
<line x1="371.04" y1="430.40" x2="380.04" y2="430.40" stroke="#111" stroke-width="1.7"/>
<rect x="367.94" y="437.05" width="15.20" height="0.45" fill="#fff" stroke="#0a0a0a" stroke-width="1.3"/>
<line x1="371.42" y1="437.05" x2="371.42" y2="437.50" stroke="#555" stroke-width="1.0"/>
<line x1="375.54" y1="437.05" x2="375.54" y2="437.50" stroke="#555" stroke-width="1.0"/>
<line x1="379.67" y1="437.05" x2="379.67" y2="437.50" stroke="#555" stroke-width="1.0"/>
<line x1="346.89" y1="437.50" x2="346.89" y2="441.00" stroke="#222" stroke-width="1.2"/>
<text transform="translate(93.7,500.5) rotate(-45)" text-anchor="middle" dy="3.49" font-size="10" font-weight="bold">30</text>
<text transform="translate(177,501) rotate(-45)" text-anchor="middle" dy="3.49" font-size="10" font-weight="bold">60</text>
<text transform="translate(261,501) rotate(-45)" text-anchor="middle" dy="3.49" font-size="10" font-weight="bold">90</text>
<text transform="translate(342,502) rotate(-45)" text-anchor="middle" dy="3.49" font-size="10" font-weight="bold">120</text>
<text x="192.00" y="509.00" font-size="10" font-weight="bold" font-style="normal" text-anchor="start" textLength="21.5" lengthAdjust="spacingAndGlyphs" >Time</text>
<text x="220.00" y="509.00" font-size="10" font-weight="bold" font-style="normal" text-anchor="start" textLength="23" lengthAdjust="spacingAndGlyphs" >(min)</text>
</g>
<g>
<rect x="402.50" y="281.50" width="391.00" height="267.00" fill="none" stroke="#111" stroke-width="1.3"/>
<text transform="translate(414.3,303.9) scale(0.94,1)" font-size="21.5" font-weight="bold">D</text>
<text x="490.1" y="303.75" font-size="13" font-weight="bold" textLength="290.45" lengthAdjust="spacingAndGlyphs">Expression in <tspan font-style="italic">M</tspan><tspan font-style="italic" dx="1.30">tb</tspan> relative to <tspan font-style="italic">M</tspan><tspan font-style="italic" dx="1.30">tb</tspan>:<tspan font-weight="normal" font-size="11.05">&#916;&#8722;&#963;</tspan><tspan font-size="8.6" font-weight="normal" dy="-4.55">E</tspan><tspan dy="4.55"> (ETMB)</tspan></text>
<rect x="689.40" y="320.00" width="70.35" height="65.60" fill="none" stroke="#1a1a1a" stroke-width="1.3"/>
<rect x="696.90" y="329.00" width="15.00" height="7.00" fill="#000" stroke="#000" stroke-width="1"/>
<rect x="696.90" y="343.75" width="15.00" height="7.50" fill="#fff" stroke="#1a1a1a" stroke-width="1.3"/>
<rect x="696.90" y="358.75" width="15.00" height="9.00" fill="#fff" stroke="#1a1a1a" stroke-width="1.3"/>
<line x1="696.90" y1="361.75" x2="711.90" y2="361.75" stroke="#444" stroke-width="1.0"/>
<line x1="696.90" y1="364.75" x2="711.90" y2="364.75" stroke="#444" stroke-width="1.0"/>
<rect x="696.90" y="372.25" width="15.00" height="7.50" fill="#fff" stroke="#1a1a1a" stroke-width="1.3"/>
<line x1="700.65" y1="372.25" x2="700.65" y2="379.75" stroke="#555" stroke-width="1.0"/>
<line x1="704.40" y1="372.25" x2="704.40" y2="379.75" stroke="#555" stroke-width="1.0"/>
<line x1="708.15" y1="372.25" x2="708.15" y2="379.75" stroke="#555" stroke-width="1.0"/>
<text x="720.00" y="336.00" font-size="9.5" font-weight="bold" font-style="normal" text-anchor="start" textLength="36.3" lengthAdjust="spacingAndGlyphs" >MT2816</text>
<text x="719.60" y="353.55" font-size="9.8" font-weight="normal" font-style="normal" text-anchor="start" >&#963;</text>
<text x="726.90" y="348.55" font-size="7.3" font-weight="normal" font-style="normal" text-anchor="start" >H</text>
<text x="719.60" y="370.05" font-size="9.8" font-weight="normal" font-style="normal" text-anchor="start" >&#963;</text>
<text x="726.90" y="365.05" font-size="7.3" font-weight="normal" font-style="normal" text-anchor="start" >&#915;</text>
<text x="719.60" y="382.05" font-size="9.8" font-weight="normal" font-style="normal" text-anchor="start" >&#963;</text>
<text x="726.90" y="377.05" font-size="7.3" font-weight="normal" font-style="normal" text-anchor="start" >B</text>
<line x1="452.30" y1="346.60" x2="452.30" y2="523.20" stroke="#3a3a3a" stroke-width="1.3"/>
<line x1="448.10" y1="346.75" x2="452.30" y2="346.75" stroke="#3a3a3a" stroke-width="1.3"/>
<text transform="translate(447.45,350.26) scale(1.0,1)" font-size="10.5" font-weight="bold" text-anchor="end">2</text>
<line x1="448.10" y1="390.75" x2="452.30" y2="390.75" stroke="#3a3a3a" stroke-width="1.3"/>
<text transform="translate(447.45,394.26) scale(1.0,1)" font-size="10.5" font-weight="bold" text-anchor="end">1</text>
<line x1="448.10" y1="434.75" x2="452.30" y2="434.75" stroke="#3a3a3a" stroke-width="1.3"/>
<text transform="translate(447.45,438.26) scale(1.0,1)" font-size="10.5" font-weight="bold" text-anchor="end">0</text>
<line x1="448.10" y1="478.75" x2="452.30" y2="478.75" stroke="#3a3a3a" stroke-width="1.3"/>
<text transform="translate(447.45,482.26) scale(1.0,1)" font-size="10.5" font-weight="bold" text-anchor="end">-1</text>
<line x1="448.10" y1="522.75" x2="452.30" y2="522.75" stroke="#3a3a3a" stroke-width="1.3"/>
<text transform="translate(447.45,526.26) scale(1.0,1)" font-size="10.5" font-weight="bold" text-anchor="end">-2</text>
<line x1="452.30" y1="434.75" x2="787.30" y2="434.75" stroke="#111" stroke-width="1.4"/>
<text transform="translate(420.6,434.75) rotate(-90)" text-anchor="middle" font-size="10" font-weight="bold" textLength="92" lengthAdjust="spacingAndGlyphs">Relative Expression</text>
<text transform="translate(434.7,434.8) rotate(-90)" text-anchor="middle" font-size="9.6" font-weight="bold" textLength="123.3" lengthAdjust="spacingAndGlyphs">[<tspan font-weight="normal">&#916;</tspan>C<tspan font-size="6.7" dy="2.5">t</tspan><tspan dy="-2.5"> (</tspan><tspan font-style="italic">Mtb</tspan>) - <tspan font-weight="normal">&#916;</tspan>C<tspan font-size="6.7" dy="2.5">t</tspan><tspan dy="-2.5"> (</tspan><tspan font-style="italic">Mtb</tspan>:<tspan font-weight="normal">&#916;&#8722;&#963;</tspan><tspan font-size="6.7" dy="-5.7">E</tspan><tspan dy="5.7">)]</tspan></text>
<line x1="464.75" y1="437.50" x2="464.75" y2="454.75" stroke="#111" stroke-width="1.3"/>
<line x1="460.25" y1="454.75" x2="469.25" y2="454.75" stroke="#111" stroke-width="1.7"/>
<rect x="456.20" y="434.75" width="17.10" height="3.25" fill="#000"/>
<line x1="483.85" y1="440.00" x2="483.85" y2="466.90" stroke="#111" stroke-width="1.3"/>
<line x1="479.35" y1="466.90" x2="488.35" y2="466.90" stroke="#111" stroke-width="1.7"/>
<rect x="476.25" y="434.75" width="15.20" height="4.60" fill="#fff" stroke="#0a0a0a" stroke-width="1.3"/>
<line x1="502.95" y1="430.60" x2="502.95" y2="416.00" stroke="#111" stroke-width="1.3"/>
<line x1="498.45" y1="416.00" x2="507.45" y2="416.00" stroke="#111" stroke-width="1.7"/>
<rect x="495.35" y="431.25" width="15.20" height="3.50" fill="#fff" stroke="#0a0a0a" stroke-width="1.3"/>
<line x1="522.05" y1="434.75" x2="522.05" y2="414.00" stroke="#111" stroke-width="1.3"/>
<line x1="517.55" y1="414.00" x2="526.55" y2="414.00" stroke="#111" stroke-width="1.7"/>
<line x1="493.40" y1="434.75" x2="493.40" y2="438.25" stroke="#222" stroke-width="1.2"/>
<line x1="547.95" y1="437.70" x2="547.95" y2="457.20" stroke="#111" stroke-width="1.3"/>
<line x1="543.45" y1="457.20" x2="552.45" y2="457.20" stroke="#111" stroke-width="1.7"/>
<rect x="539.40" y="434.75" width="17.10" height="3.45" fill="#000"/>
<line x1="567.05" y1="425.00" x2="567.05" y2="411.50" stroke="#111" stroke-width="1.3"/>
<line x1="562.55" y1="411.50" x2="571.55" y2="411.50" stroke="#111" stroke-width="1.7"/>
<rect x="559.45" y="425.65" width="15.20" height="9.10" fill="#fff" stroke="#0a0a0a" stroke-width="1.3"/>
<line x1="586.15" y1="433.20" x2="586.15" y2="414.80" stroke="#111" stroke-width="1.3"/>
<line x1="581.65" y1="414.80" x2="590.65" y2="414.80" stroke="#111" stroke-width="1.7"/>
<rect x="578.55" y="433.85" width="15.20" height="0.90" fill="#fff" stroke="#0a0a0a" stroke-width="1.3"/>
<line x1="605.25" y1="419.00" x2="605.25" y2="379.70" stroke="#111" stroke-width="1.3"/>
<line x1="600.75" y1="379.70" x2="609.75" y2="379.70" stroke="#111" stroke-width="1.7"/>
<rect x="597.65" y="419.65" width="15.20" height="15.10" fill="#fff" stroke="#0a0a0a" stroke-width="1.3"/>
<line x1="601.12" y1="419.65" x2="601.12" y2="434.75" stroke="#555" stroke-width="1.0"/>
<line x1="605.25" y1="419.65" x2="605.25" y2="434.75" stroke="#555" stroke-width="1.0"/>
<line x1="609.38" y1="419.65" x2="609.38" y2="434.75" stroke="#555" stroke-width="1.0"/>
<line x1="576.60" y1="434.75" x2="576.60" y2="438.25" stroke="#222" stroke-width="1.2"/>
<line x1="631.15" y1="428.20" x2="631.15" y2="427.50" stroke="#111" stroke-width="1.3"/>
<line x1="626.65" y1="427.50" x2="635.65" y2="427.50" stroke="#111" stroke-width="1.7"/>
<rect x="622.60" y="427.70" width="17.10" height="7.05" fill="#000"/>
<line x1="650.25" y1="432.70" x2="650.25" y2="421.30" stroke="#111" stroke-width="1.3"/>
<line x1="645.75" y1="421.30" x2="654.75" y2="421.30" stroke="#111" stroke-width="1.7"/>
<rect x="642.65" y="433.35" width="15.20" height="1.40" fill="#fff" stroke="#0a0a0a" stroke-width="1.3"/>
<line x1="669.35" y1="435.50" x2="669.35" y2="402.80" stroke="#111" stroke-width="1.3"/>
<line x1="664.85" y1="402.80" x2="673.85" y2="402.80" stroke="#111" stroke-width="1.7"/>
<rect x="661.75" y="434.75" width="15.20" height="0.30" fill="#fff" stroke="#0a0a0a" stroke-width="1.3"/>
<line x1="688.45" y1="440.00" x2="688.45" y2="468.10" stroke="#111" stroke-width="1.3"/>
<line x1="683.95" y1="468.10" x2="692.95" y2="468.10" stroke="#111" stroke-width="1.7"/>
<rect x="680.85" y="434.75" width="15.20" height="4.60" fill="#fff" stroke="#0a0a0a" stroke-width="1.3"/>
<line x1="684.32" y1="434.75" x2="684.32" y2="439.35" stroke="#555" stroke-width="1.0"/>
<line x1="688.45" y1="434.75" x2="688.45" y2="439.35" stroke="#555" stroke-width="1.0"/>
<line x1="692.57" y1="434.75" x2="692.57" y2="439.35" stroke="#555" stroke-width="1.0"/>
<line x1="659.80" y1="434.75" x2="659.80" y2="438.25" stroke="#222" stroke-width="1.2"/>
<line x1="714.35" y1="426.90" x2="714.35" y2="417.40" stroke="#111" stroke-width="1.3"/>
<line x1="709.85" y1="417.40" x2="718.85" y2="417.40" stroke="#111" stroke-width="1.7"/>
<rect x="705.80" y="426.40" width="17.10" height="8.35" fill="#000"/>
<line x1="733.45" y1="444.50" x2="733.45" y2="451.20" stroke="#111" stroke-width="1.3"/>
<line x1="728.95" y1="451.20" x2="737.95" y2="451.20" stroke="#111" stroke-width="1.7"/>
<rect x="725.85" y="434.75" width="15.20" height="9.10" fill="#fff" stroke="#0a0a0a" stroke-width="1.3"/>
<line x1="752.55" y1="436.00" x2="752.55" y2="437.70" stroke="#111" stroke-width="1.3"/>
<line x1="748.05" y1="437.70" x2="757.05" y2="437.70" stroke="#111" stroke-width="1.7"/>
<rect x="744.95" y="434.75" width="15.20" height="0.60" fill="#fff" stroke="#0a0a0a" stroke-width="1.3"/>
<line x1="771.65" y1="428.70" x2="771.65" y2="416.80" stroke="#111" stroke-width="1.3"/>
<line x1="767.15" y1="416.80" x2="776.15" y2="416.80" stroke="#111" stroke-width="1.7"/>
<rect x="764.05" y="429.35" width="15.20" height="5.40" fill="#fff" stroke="#0a0a0a" stroke-width="1.3"/>
<line x1="767.52" y1="429.35" x2="767.52" y2="434.75" stroke="#555" stroke-width="1.0"/>
<line x1="771.65" y1="429.35" x2="771.65" y2="434.75" stroke="#555" stroke-width="1.0"/>
<line x1="775.77" y1="429.35" x2="775.77" y2="434.75" stroke="#555" stroke-width="1.0"/>
<line x1="743.00" y1="434.75" x2="743.00" y2="438.25" stroke="#222" stroke-width="1.2"/>
<text transform="translate(490.5,471.3) rotate(-45)" text-anchor="middle" dy="3.49" font-size="10" font-weight="bold">30</text>
<text transform="translate(573.5,471.5) rotate(-45)" text-anchor="middle" dy="3.49" font-size="10" font-weight="bold">60</text>
<text transform="translate(657.8,471.5) rotate(-45)" text-anchor="middle" dy="3.49" font-size="10" font-weight="bold">90</text>
<text transform="translate(738.9,473.7) rotate(-45)" text-anchor="middle" dy="3.49" font-size="10" font-weight="bold">120</text>
<text x="588.50" y="480.10" font-size="10" font-weight="bold" font-style="normal" text-anchor="start" textLength="21.5" lengthAdjust="spacingAndGlyphs" >Time</text>
<text x="616.50" y="480.10" font-size="10" font-weight="bold" font-style="normal" text-anchor="start" textLength="22.9" lengthAdjust="spacingAndGlyphs" >(min)</text>
</g>
<g>
<rect x="5.50" y="557.50" width="391.00" height="267.00" fill="none" stroke="#111" stroke-width="1.3"/>
<text transform="translate(16.5,582.7) scale(0.9,1)" font-size="21.5" font-weight="bold">E</text>
<text x="99.1" y="580.4" font-size="13" font-weight="bold" textLength="277.7" lengthAdjust="spacingAndGlyphs">Expression in <tspan font-style="italic">M</tspan><tspan font-style="italic" dx="1.30">tb</tspan> relative to <tspan font-style="italic">M</tspan><tspan font-style="italic" dx="1.30">tb</tspan>:<tspan font-weight="normal" font-size="11.05">&#916;&#8722;&#963;</tspan><tspan font-size="8.6" font-weight="normal" dy="-4.55">H</tspan><tspan dy="4.55"> (THZ)</tspan></text>
<rect x="293.10" y="597.50" width="69.65" height="68.75" fill="none" stroke="#1a1a1a" stroke-width="1.3"/>
<rect x="300.25" y="606.90" width="15.35" height="7.10" fill="#000" stroke="#000" stroke-width="1"/>
<rect x="300.25" y="622.25" width="15.35" height="7.75" fill="#fff" stroke="#1a1a1a" stroke-width="1.3"/>
<rect x="300.25" y="638.10" width="15.35" height="9.15" fill="#fff" stroke="#1a1a1a" stroke-width="1.3"/>
<line x1="300.25" y1="641.15" x2="315.60" y2="641.15" stroke="#444" stroke-width="1.0"/>
<line x1="300.25" y1="644.20" x2="315.60" y2="644.20" stroke="#444" stroke-width="1.0"/>
<rect x="300.25" y="652.25" width="15.35" height="7.75" fill="#fff" stroke="#1a1a1a" stroke-width="1.3"/>
<line x1="304.09" y1="652.25" x2="304.09" y2="660.00" stroke="#555" stroke-width="1.0"/>
<line x1="307.93" y1="652.25" x2="307.93" y2="660.00" stroke="#555" stroke-width="1.0"/>
<line x1="311.76" y1="652.25" x2="311.76" y2="660.00" stroke="#555" stroke-width="1.0"/>
<text x="323.50" y="614.00" font-size="10" font-weight="bold" font-style="normal" text-anchor="start" textLength="36.3" lengthAdjust="spacingAndGlyphs" >MT2816</text>
<text x="323.10" y="632.30" font-size="9.8" font-weight="normal" font-style="normal" text-anchor="start" >&#963;</text>
<text x="330.40" y="627.30" font-size="7.3" font-weight="normal" font-style="normal" text-anchor="start" >H</text>
<text x="323.10" y="649.55" font-size="9.8" font-weight="normal" font-style="normal" text-anchor="start" >&#963;</text>
<text x="330.40" y="644.55" font-size="7.3" font-weight="normal" font-style="normal" text-anchor="start" >E</text>
<text x="323.10" y="662.30" font-size="9.8" font-weight="normal" font-style="normal" text-anchor="start" >&#963;</text>
<text x="330.40" y="657.30" font-size="7.3" font-weight="normal" font-style="normal" text-anchor="start" >B</text>
<line x1="55.70" y1="625.10" x2="55.70" y2="809.50" stroke="#3a3a3a" stroke-width="1.3"/>
<line x1="51.50" y1="625.70" x2="55.70" y2="625.70" stroke="#3a3a3a" stroke-width="1.3"/>
<text transform="translate(50.6,628.76) scale(1.0,1)" font-size="10.5" font-weight="bold" text-anchor="end">3</text>
<line x1="51.50" y1="671.70" x2="55.70" y2="671.70" stroke="#3a3a3a" stroke-width="1.3"/>
<text transform="translate(50.6,674.76) scale(1.0,1)" font-size="10.5" font-weight="bold" text-anchor="end">2</text>
<line x1="51.50" y1="717.70" x2="55.70" y2="717.70" stroke="#3a3a3a" stroke-width="1.3"/>
<text transform="translate(50.6,720.76) scale(1.0,1)" font-size="10.5" font-weight="bold" text-anchor="end">1</text>
<line x1="51.50" y1="763.70" x2="55.70" y2="763.70" stroke="#3a3a3a" stroke-width="1.3"/>
<text transform="translate(50.6,766.76) scale(1.0,1)" font-size="10.5" font-weight="bold" text-anchor="end">0</text>
<line x1="51.50" y1="809.70" x2="55.70" y2="809.70" stroke="#3a3a3a" stroke-width="1.3"/>
<text transform="translate(50.6,812.76) scale(1.0,1)" font-size="10.5" font-weight="bold" text-anchor="end">-1</text>
<line x1="55.70" y1="763.70" x2="390.40" y2="763.70" stroke="#111" stroke-width="1.4"/>
<text transform="translate(24.0,717.25) rotate(-90)" text-anchor="middle" font-size="11" font-weight="bold" textLength="96.5" lengthAdjust="spacingAndGlyphs">Relative Expression</text>
<text transform="translate(39.4,717.25) rotate(-90)" text-anchor="middle" font-size="10" font-weight="bold" textLength="130.4" lengthAdjust="spacingAndGlyphs">[<tspan font-weight="normal">&#916;</tspan>C<tspan font-size="7.0" dy="2.5">t</tspan><tspan dy="-2.5"> (</tspan><tspan font-style="italic">Mtb</tspan>) - <tspan font-weight="normal">&#916;</tspan>C<tspan font-size="7.0" dy="2.5">t</tspan><tspan dy="-2.5"> (</tspan><tspan font-style="italic">Mtb</tspan>:<tspan font-weight="normal">&#916;&#8722;&#963;</tspan><tspan font-size="7.0" dy="-5.95">H</tspan><tspan dy="5.95">)]</tspan></text>
<line x1="68.25" y1="725.00" x2="68.25" y2="723.75" stroke="#111" stroke-width="1.3"/>
<line x1="63.75" y1="723.75" x2="72.75" y2="723.75" stroke="#111" stroke-width="1.7"/>
<rect x="59.70" y="724.50" width="17.10" height="39.20" fill="#000"/>
<line x1="87.35" y1="742.50" x2="87.35" y2="729.40" stroke="#111" stroke-width="1.3"/>
<line x1="82.85" y1="729.40" x2="91.85" y2="729.40" stroke="#111" stroke-width="1.7"/>
<rect x="79.75" y="743.15" width="15.20" height="20.55" fill="#fff" stroke="#0a0a0a" stroke-width="1.3"/>
<line x1="106.45" y1="719.60" x2="106.45" y2="716.50" stroke="#111" stroke-width="1.3"/>
<line x1="101.95" y1="716.50" x2="110.95" y2="716.50" stroke="#111" stroke-width="1.7"/>
<rect x="98.85" y="720.25" width="15.20" height="43.45" fill="#fff" stroke="#0a0a0a" stroke-width="1.3"/>
<line x1="98.85" y1="760.40" x2="114.05" y2="760.40" stroke="#444" stroke-width="1.0"/>
<line x1="98.85" y1="757.10" x2="114.05" y2="757.10" stroke="#444" stroke-width="1.0"/>
<line x1="98.85" y1="753.80" x2="114.05" y2="753.80" stroke="#444" stroke-width="1.0"/>
<line x1="98.85" y1="750.50" x2="114.05" y2="750.50" stroke="#444" stroke-width="1.0"/>
<line x1="98.85" y1="747.20" x2="114.05" y2="747.20" stroke="#444" stroke-width="1.0"/>
<line x1="98.85" y1="743.90" x2="114.05" y2="743.90" stroke="#444" stroke-width="1.0"/>
<line x1="98.85" y1="740.60" x2="114.05" y2="740.60" stroke="#444" stroke-width="1.0"/>
<line x1="98.85" y1="737.30" x2="114.05" y2="737.30" stroke="#444" stroke-width="1.0"/>
<line x1="98.85" y1="734.00" x2="114.05" y2="734.00" stroke="#444" stroke-width="1.0"/>
<line x1="98.85" y1="730.70" x2="114.05" y2="730.70" stroke="#444" stroke-width="1.0"/>
<line x1="98.85" y1="727.40" x2="114.05" y2="727.40" stroke="#444" stroke-width="1.0"/>
<line x1="98.85" y1="724.10" x2="114.05" y2="724.10" stroke="#444" stroke-width="1.0"/>
<line x1="125.55" y1="716.00" x2="125.55" y2="711.25" stroke="#111" stroke-width="1.3"/>
<line x1="121.05" y1="711.25" x2="130.05" y2="711.25" stroke="#111" stroke-width="1.7"/>
<rect x="117.95" y="716.65" width="15.20" height="47.05" fill="#fff" stroke="#0a0a0a" stroke-width="1.3"/>
<line x1="120.60" y1="716.65" x2="120.60" y2="763.70" stroke="#555" stroke-width="1.0"/>
<line x1="123.90" y1="716.65" x2="123.90" y2="763.70" stroke="#555" stroke-width="1.0"/>
<line x1="127.20" y1="716.65" x2="127.20" y2="763.70" stroke="#555" stroke-width="1.0"/>
<line x1="130.50" y1="716.65" x2="130.50" y2="763.70" stroke="#555" stroke-width="1.0"/>
<line x1="96.90" y1="763.70" x2="96.90" y2="767.20" stroke="#222" stroke-width="1.2"/>
<line x1="151.58" y1="735.50" x2="151.58" y2="730.50" stroke="#111" stroke-width="1.3"/>
<line x1="147.08" y1="730.50" x2="156.08" y2="730.50" stroke="#111" stroke-width="1.7"/>
<rect x="143.03" y="735.00" width="17.10" height="28.70" fill="#000"/>
<line x1="170.68" y1="746.00" x2="170.68" y2="742.30" stroke="#111" stroke-width="1.3"/>
<line x1="166.18" y1="742.30" x2="175.18" y2="742.30" stroke="#111" stroke-width="1.7"/>
<rect x="163.08" y="746.65" width="15.20" height="17.05" fill="#fff" stroke="#0a0a0a" stroke-width="1.3"/>
<line x1="189.78" y1="712.40" x2="189.78" y2="704.00" stroke="#111" stroke-width="1.3"/>
<line x1="185.28" y1="704.00" x2="194.28" y2="704.00" stroke="#111" stroke-width="1.7"/>
<rect x="182.18" y="713.05" width="15.20" height="50.65" fill="#fff" stroke="#0a0a0a" stroke-width="1.3"/>
<line x1="182.18" y1="760.40" x2="197.38" y2="760.40" stroke="#444" stroke-width="1.0"/>
<line x1="182.18" y1="757.10" x2="197.38" y2="757.10" stroke="#444" stroke-width="1.0"/>
<line x1="182.18" y1="753.80" x2="197.38" y2="753.80" stroke="#444" stroke-width="1.0"/>
<line x1="182.18" y1="750.50" x2="197.38" y2="750.50" stroke="#444" stroke-width="1.0"/>
<line x1="182.18" y1="747.20" x2="197.38" y2="747.20" stroke="#444" stroke-width="1.0"/>
<line x1="182.18" y1="743.90" x2="197.38" y2="743.90" stroke="#444" stroke-width="1.0"/>
<line x1="182.18" y1="740.60" x2="197.38" y2="740.60" stroke="#444" stroke-width="1.0"/>
<line x1="182.18" y1="737.30" x2="197.38" y2="737.30" stroke="#444" stroke-width="1.0"/>
<line x1="182.18" y1="734.00" x2="197.38" y2="734.00" stroke="#444" stroke-width="1.0"/>
<line x1="182.18" y1="730.70" x2="197.38" y2="730.70" stroke="#444" stroke-width="1.0"/>
<line x1="182.18" y1="727.40" x2="197.38" y2="727.40" stroke="#444" stroke-width="1.0"/>
<line x1="182.18" y1="724.10" x2="197.38" y2="724.10" stroke="#444" stroke-width="1.0"/>
<line x1="182.18" y1="720.80" x2="197.38" y2="720.80" stroke="#444" stroke-width="1.0"/>
<line x1="182.18" y1="717.50" x2="197.38" y2="717.50" stroke="#444" stroke-width="1.0"/>
<line x1="182.18" y1="714.20" x2="197.38" y2="714.20" stroke="#444" stroke-width="1.0"/>
<line x1="208.88" y1="732.80" x2="208.88" y2="669.20" stroke="#111" stroke-width="1.3"/>
<line x1="204.38" y1="669.20" x2="213.38" y2="669.20" stroke="#111" stroke-width="1.7"/>
<rect x="201.28" y="733.45" width="15.20" height="30.25" fill="#fff" stroke="#0a0a0a" stroke-width="1.3"/>
<line x1="203.93" y1="733.45" x2="203.93" y2="763.70" stroke="#555" stroke-width="1.0"/>
<line x1="207.23" y1="733.45" x2="207.23" y2="763.70" stroke="#555" stroke-width="1.0"/>
<line x1="210.53" y1="733.45" x2="210.53" y2="763.70" stroke="#555" stroke-width="1.0"/>
<line x1="213.83" y1="733.45" x2="213.83" y2="763.70" stroke="#555" stroke-width="1.0"/>
<line x1="180.23" y1="763.70" x2="180.23" y2="767.20" stroke="#222" stroke-width="1.2"/>
<line x1="234.91" y1="704.50" x2="234.91" y2="664.90" stroke="#111" stroke-width="1.3"/>
<line x1="230.41" y1="664.90" x2="239.41" y2="664.90" stroke="#111" stroke-width="1.7"/>
<rect x="226.36" y="704.00" width="17.10" height="59.70" fill="#000"/>
<line x1="254.01" y1="738.60" x2="254.01" y2="725.40" stroke="#111" stroke-width="1.3"/>
<line x1="249.51" y1="725.40" x2="258.51" y2="725.40" stroke="#111" stroke-width="1.7"/>
<rect x="246.41" y="739.25" width="15.20" height="24.45" fill="#fff" stroke="#0a0a0a" stroke-width="1.3"/>
<line x1="273.11" y1="735.60" x2="273.11" y2="735.00" stroke="#111" stroke-width="1.3"/>
<line x1="268.61" y1="735.00" x2="277.61" y2="735.00" stroke="#111" stroke-width="1.7"/>
<rect x="265.51" y="736.25" width="15.20" height="27.45" fill="#fff" stroke="#0a0a0a" stroke-width="1.3"/>
<line x1="265.51" y1="760.40" x2="280.71" y2="760.40" stroke="#444" stroke-width="1.0"/>
<line x1="265.51" y1="757.10" x2="280.71" y2="757.10" stroke="#444" stroke-width="1.0"/>
<line x1="265.51" y1="753.80" x2="280.71" y2="753.80" stroke="#444" stroke-width="1.0"/>
<line x1="265.51" y1="750.50" x2="280.71" y2="750.50" stroke="#444" stroke-width="1.0"/>
<line x1="265.51" y1="747.20" x2="280.71" y2="747.20" stroke="#444" stroke-width="1.0"/>
<line x1="265.51" y1="743.90" x2="280.71" y2="743.90" stroke="#444" stroke-width="1.0"/>
<line x1="265.51" y1="740.60" x2="280.71" y2="740.60" stroke="#444" stroke-width="1.0"/>
<line x1="265.51" y1="737.30" x2="280.71" y2="737.30" stroke="#444" stroke-width="1.0"/>
<line x1="292.21" y1="703.60" x2="292.21" y2="678.60" stroke="#111" stroke-width="1.3"/>
<line x1="287.71" y1="678.60" x2="296.71" y2="678.60" stroke="#111" stroke-width="1.7"/>
<rect x="284.61" y="704.25" width="15.20" height="59.45" fill="#fff" stroke="#0a0a0a" stroke-width="1.3"/>
<line x1="287.26" y1="704.25" x2="287.26" y2="763.70" stroke="#555" stroke-width="1.0"/>
<line x1="290.56" y1="704.25" x2="290.56" y2="763.70" stroke="#555" stroke-width="1.0"/>
<line x1="293.86" y1="704.25" x2="293.86" y2="763.70" stroke="#555" stroke-width="1.0"/>
<line x1="297.16" y1="704.25" x2="297.16" y2="763.70" stroke="#555" stroke-width="1.0"/>
<line x1="263.56" y1="763.70" x2="263.56" y2="767.20" stroke="#222" stroke-width="1.2"/>
<line x1="318.24" y1="727.40" x2="318.24" y2="710.40" stroke="#111" stroke-width="1.3"/>
<line x1="313.74" y1="710.40" x2="322.74" y2="710.40" stroke="#111" stroke-width="1.7"/>
<rect x="309.69" y="726.90" width="17.10" height="36.80" fill="#000"/>
<line x1="337.34" y1="730.00" x2="337.34" y2="728.40" stroke="#111" stroke-width="1.3"/>
<line x1="332.84" y1="728.40" x2="341.84" y2="728.40" stroke="#111" stroke-width="1.7"/>
<rect x="329.74" y="730.65" width="15.20" height="33.05" fill="#fff" stroke="#0a0a0a" stroke-width="1.3"/>
<line x1="356.44" y1="676.60" x2="356.44" y2="675.40" stroke="#111" stroke-width="1.3"/>
<line x1="351.94" y1="675.40" x2="360.94" y2="675.40" stroke="#111" stroke-width="1.7"/>
<rect x="348.84" y="677.25" width="15.20" height="86.45" fill="#fff" stroke="#0a0a0a" stroke-width="1.3"/>
<line x1="348.84" y1="760.40" x2="364.04" y2="760.40" stroke="#444" stroke-width="1.0"/>
<line x1="348.84" y1="757.10" x2="364.04" y2="757.10" stroke="#444" stroke-width="1.0"/>
<line x1="348.84" y1="753.80" x2="364.04" y2="753.80" stroke="#444" stroke-width="1.0"/>
<line x1="348.84" y1="750.50" x2="364.04" y2="750.50" stroke="#444" stroke-width="1.0"/>
<line x1="348.84" y1="747.20" x2="364.04" y2="747.20" stroke="#444" stroke-width="1.0"/>
<line x1="348.84" y1="743.90" x2="364.04" y2="743.90" stroke="#444" stroke-width="1.0"/>
<line x1="348.84" y1="740.60" x2="364.04" y2="740.60" stroke="#444" stroke-width="1.0"/>
<line x1="348.84" y1="737.30" x2="364.04" y2="737.30" stroke="#444" stroke-width="1.0"/>
<line x1="348.84" y1="734.00" x2="364.04" y2="734.00" stroke="#444" stroke-width="1.0"/>
<line x1="348.84" y1="730.70" x2="364.04" y2="730.70" stroke="#444" stroke-width="1.0"/>
<line x1="348.84" y1="727.40" x2="364.04" y2="727.40" stroke="#444" stroke-width="1.0"/>
<line x1="348.84" y1="724.10" x2="364.04" y2="724.10" stroke="#444" stroke-width="1.0"/>
<line x1="348.84" y1="720.80" x2="364.04" y2="720.80" stroke="#444" stroke-width="1.0"/>
<line x1="348.84" y1="717.50" x2="364.04" y2="717.50" stroke="#444" stroke-width="1.0"/>
<line x1="348.84" y1="714.20" x2="364.04" y2="714.20" stroke="#444" stroke-width="1.0"/>
<line x1="348.84" y1="710.90" x2="364.04" y2="710.90" stroke="#444" stroke-width="1.0"/>
<line x1="348.84" y1="707.60" x2="364.04" y2="707.60" stroke="#444" stroke-width="1.0"/>
<line x1="348.84" y1="704.30" x2="364.04" y2="704.30" stroke="#444" stroke-width="1.0"/>
<line x1="348.84" y1="701.00" x2="364.04" y2="701.00" stroke="#444" stroke-width="1.0"/>
<line x1="348.84" y1="697.70" x2="364.04" y2="697.70" stroke="#444" stroke-width="1.0"/>
<line x1="348.84" y1="694.40" x2="364.04" y2="694.40" stroke="#444" stroke-width="1.0"/>
<line x1="348.84" y1="691.10" x2="364.04" y2="691.10" stroke="#444" stroke-width="1.0"/>
<line x1="348.84" y1="687.80" x2="364.04" y2="687.80" stroke="#444" stroke-width="1.0"/>
<line x1="348.84" y1="684.50" x2="364.04" y2="684.50" stroke="#444" stroke-width="1.0"/>
<line x1="348.84" y1="681.20" x2="364.04" y2="681.20" stroke="#444" stroke-width="1.0"/>
<line x1="375.54" y1="706.00" x2="375.54" y2="674.40" stroke="#111" stroke-width="1.3"/>
<line x1="371.04" y1="674.40" x2="380.04" y2="674.40" stroke="#111" stroke-width="1.7"/>
<rect x="367.94" y="706.65" width="15.20" height="57.05" fill="#fff" stroke="#0a0a0a" stroke-width="1.3"/>
<line x1="370.59" y1="706.65" x2="370.59" y2="763.70" stroke="#555" stroke-width="1.0"/>
<line x1="373.89" y1="706.65" x2="373.89" y2="763.70" stroke="#555" stroke-width="1.0"/>
<line x1="377.19" y1="706.65" x2="377.19" y2="763.70" stroke="#555" stroke-width="1.0"/>
<line x1="380.49" y1="706.65" x2="380.49" y2="763.70" stroke="#555" stroke-width="1.0"/>
<line x1="346.89" y1="763.70" x2="346.89" y2="767.20" stroke="#222" stroke-width="1.2"/>
<text transform="translate(94.1,786.4) rotate(-45)" text-anchor="middle" dy="3.49" font-size="10" font-weight="bold">30</text>
<text transform="translate(177,786) rotate(-45)" text-anchor="middle" dy="3.49" font-size="10" font-weight="bold">60</text>
<text transform="translate(260,786) rotate(-45)" text-anchor="middle" dy="3.49" font-size="10" font-weight="bold">90</text>
<text transform="translate(342,788) rotate(-45)" text-anchor="middle" dy="3.49" font-size="10" font-weight="bold">120</text>
<text x="191.60" y="797.80" font-size="10" font-weight="bold" font-style="normal" text-anchor="start" textLength="21.4" lengthAdjust="spacingAndGlyphs" >Time</text>
<text x="219.50" y="797.80" font-size="10" font-weight="bold" font-style="normal" text-anchor="start" textLength="23.9" lengthAdjust="spacingAndGlyphs" >(min)</text>
</g>
<g>
<rect x="401.50" y="557.50" width="391.00" height="267.00" fill="none" stroke="#111" stroke-width="1.3"/>
<text transform="translate(414.3,582.7) scale(0.93,1)" font-size="21.5" font-weight="bold">F</text>
<text x="495.4" y="579.8" font-size="12.2" font-weight="bold" textLength="275.45" lengthAdjust="spacingAndGlyphs">Expression in <tspan font-style="italic">M</tspan><tspan font-style="italic" dx="1.22">tb</tspan> relative to <tspan font-style="italic">M</tspan><tspan font-style="italic" dx="1.22">tb</tspan>:<tspan font-weight="normal" font-size="10.37">&#916;&#8722;&#963;</tspan><tspan font-size="8.1" font-weight="normal" dy="-4.27">E</tspan><tspan dy="4.27"> (THZ)</tspan></text>
<rect x="688.50" y="595.60" width="70.25" height="65.90" fill="none" stroke="#1a1a1a" stroke-width="1.3"/>
<rect x="696.00" y="604.40" width="15.25" height="7.10" fill="#000" stroke="#000" stroke-width="1"/>
<rect x="696.00" y="619.40" width="15.25" height="7.50" fill="#fff" stroke="#1a1a1a" stroke-width="1.3"/>
<rect x="696.00" y="634.40" width="15.25" height="8.70" fill="#fff" stroke="#1a1a1a" stroke-width="1.3"/>
<line x1="696.00" y1="637.30" x2="711.25" y2="637.30" stroke="#444" stroke-width="1.0"/>
<line x1="696.00" y1="640.20" x2="711.25" y2="640.20" stroke="#444" stroke-width="1.0"/>
<rect x="696.00" y="647.75" width="15.25" height="7.50" fill="#fff" stroke="#1a1a1a" stroke-width="1.3"/>
<line x1="699.81" y1="647.75" x2="699.81" y2="655.25" stroke="#555" stroke-width="1.0"/>
<line x1="703.62" y1="647.75" x2="703.62" y2="655.25" stroke="#555" stroke-width="1.0"/>
<line x1="707.44" y1="647.75" x2="707.44" y2="655.25" stroke="#555" stroke-width="1.0"/>
<text x="719.75" y="611.50" font-size="9.5" font-weight="bold" font-style="normal" text-anchor="start" textLength="35.9" lengthAdjust="spacingAndGlyphs" >MT2816</text>
<text x="719.35" y="629.20" font-size="9.8" font-weight="normal" font-style="normal" text-anchor="start" >&#963;</text>
<text x="726.65" y="624.20" font-size="7.3" font-weight="normal" font-style="normal" text-anchor="start" >H</text>
<text x="719.35" y="645.40" font-size="9.8" font-weight="normal" font-style="normal" text-anchor="start" >&#963;</text>
<text x="726.65" y="640.40" font-size="7.3" font-weight="normal" font-style="normal" text-anchor="start" >E</text>
<text x="719.35" y="657.55" font-size="9.8" font-weight="normal" font-style="normal" text-anchor="start" >&#963;</text>
<text x="726.65" y="652.55" font-size="7.3" font-weight="normal" font-style="normal" text-anchor="start" >B</text>
<line x1="451.40" y1="621.50" x2="451.40" y2="798.10" stroke="#3a3a3a" stroke-width="1.3"/>
<line x1="447.20" y1="622.40" x2="451.40" y2="622.40" stroke="#3a3a3a" stroke-width="1.3"/>
<text transform="translate(446.4,625.69) scale(1.0,1)" font-size="10.3" font-weight="bold" text-anchor="end">3</text>
<line x1="447.20" y1="666.40" x2="451.40" y2="666.40" stroke="#3a3a3a" stroke-width="1.3"/>
<text transform="translate(446.4,669.69) scale(1.0,1)" font-size="10.3" font-weight="bold" text-anchor="end">2</text>
<line x1="447.20" y1="710.40" x2="451.40" y2="710.40" stroke="#3a3a3a" stroke-width="1.3"/>
<text transform="translate(446.4,713.69) scale(1.0,1)" font-size="10.3" font-weight="bold" text-anchor="end">1</text>
<line x1="447.20" y1="754.40" x2="451.40" y2="754.40" stroke="#3a3a3a" stroke-width="1.3"/>
<text transform="translate(446.4,757.69) scale(1.0,1)" font-size="10.3" font-weight="bold" text-anchor="end">0</text>
<line x1="447.20" y1="798.40" x2="451.40" y2="798.40" stroke="#3a3a3a" stroke-width="1.3"/>
<text transform="translate(446.4,801.69) scale(1.0,1)" font-size="10.3" font-weight="bold" text-anchor="end">-1</text>
<line x1="451.40" y1="754.40" x2="787.30" y2="754.40" stroke="#111" stroke-width="1.4"/>
<text transform="translate(419.8,710.5) rotate(-90)" text-anchor="middle" font-size="10" font-weight="bold" textLength="92.5" lengthAdjust="spacingAndGlyphs">Relative Expression</text>
<text transform="translate(434.3,710.5) rotate(-90)" text-anchor="middle" font-size="9.6" font-weight="bold" textLength="123.5" lengthAdjust="spacingAndGlyphs">[<tspan font-weight="normal">&#916;</tspan>C<tspan font-size="6.7" dy="2.5">t</tspan><tspan dy="-2.5"> (</tspan><tspan font-style="italic">Mtb</tspan>) - <tspan font-weight="normal">&#916;</tspan>C<tspan font-size="6.7" dy="2.5">t</tspan><tspan dy="-2.5"> (</tspan><tspan font-style="italic">Mtb</tspan>:<tspan font-weight="normal">&#916;&#8722;&#963;</tspan><tspan font-size="6.7" dy="-5.7">E</tspan><tspan dy="5.7">)]</tspan></text>
<line x1="464.05" y1="753.50" x2="464.05" y2="737.10" stroke="#111" stroke-width="1.3"/>
<line x1="459.55" y1="737.10" x2="468.55" y2="737.10" stroke="#111" stroke-width="1.7"/>
<rect x="455.60" y="753.00" width="16.90" height="1.40" fill="#000"/>
<line x1="483.15" y1="772.50" x2="483.15" y2="777.50" stroke="#111" stroke-width="1.3"/>
<line x1="478.65" y1="777.50" x2="487.65" y2="777.50" stroke="#111" stroke-width="1.7"/>
<rect x="475.65" y="754.40" width="15.00" height="17.45" fill="#fff" stroke="#0a0a0a" stroke-width="1.3"/>
<line x1="502.25" y1="716.00" x2="502.25" y2="715.00" stroke="#111" stroke-width="1.3"/>
<line x1="497.75" y1="715.00" x2="506.75" y2="715.00" stroke="#111" stroke-width="1.7"/>
<rect x="494.75" y="716.65" width="15.00" height="37.75" fill="#fff" stroke="#0a0a0a" stroke-width="1.3"/>
<line x1="494.75" y1="751.10" x2="509.75" y2="751.10" stroke="#444" stroke-width="1.0"/>
<line x1="494.75" y1="747.80" x2="509.75" y2="747.80" stroke="#444" stroke-width="1.0"/>
<line x1="494.75" y1="744.50" x2="509.75" y2="744.50" stroke="#444" stroke-width="1.0"/>
<line x1="494.75" y1="741.20" x2="509.75" y2="741.20" stroke="#444" stroke-width="1.0"/>
<line x1="494.75" y1="737.90" x2="509.75" y2="737.90" stroke="#444" stroke-width="1.0"/>
<line x1="494.75" y1="734.60" x2="509.75" y2="734.60" stroke="#444" stroke-width="1.0"/>
<line x1="494.75" y1="731.30" x2="509.75" y2="731.30" stroke="#444" stroke-width="1.0"/>
<line x1="494.75" y1="728.00" x2="509.75" y2="728.00" stroke="#444" stroke-width="1.0"/>
<line x1="494.75" y1="724.70" x2="509.75" y2="724.70" stroke="#444" stroke-width="1.0"/>
<line x1="494.75" y1="721.40" x2="509.75" y2="721.40" stroke="#444" stroke-width="1.0"/>
<line x1="494.75" y1="718.10" x2="509.75" y2="718.10" stroke="#444" stroke-width="1.0"/>
<line x1="521.35" y1="713.10" x2="521.35" y2="693.75" stroke="#111" stroke-width="1.3"/>
<line x1="516.85" y1="693.75" x2="525.85" y2="693.75" stroke="#111" stroke-width="1.7"/>
<rect x="513.85" y="713.75" width="15.00" height="40.65" fill="#fff" stroke="#0a0a0a" stroke-width="1.3"/>
<line x1="516.46" y1="713.75" x2="516.46" y2="754.40" stroke="#555" stroke-width="1.0"/>
<line x1="519.72" y1="713.75" x2="519.72" y2="754.40" stroke="#555" stroke-width="1.0"/>
<line x1="522.98" y1="713.75" x2="522.98" y2="754.40" stroke="#555" stroke-width="1.0"/>
<line x1="526.24" y1="713.75" x2="526.24" y2="754.40" stroke="#555" stroke-width="1.0"/>
<line x1="492.70" y1="754.40" x2="492.70" y2="757.90" stroke="#222" stroke-width="1.2"/>
<line x1="547.25" y1="747.90" x2="547.25" y2="742.00" stroke="#111" stroke-width="1.3"/>
<line x1="542.75" y1="742.00" x2="551.75" y2="742.00" stroke="#111" stroke-width="1.7"/>
<rect x="538.80" y="747.40" width="16.90" height="7.00" fill="#000"/>
<line x1="566.35" y1="748.40" x2="566.35" y2="729.40" stroke="#111" stroke-width="1.3"/>
<line x1="561.85" y1="729.40" x2="570.85" y2="729.40" stroke="#111" stroke-width="1.7"/>
<rect x="558.85" y="749.05" width="15.00" height="5.35" fill="#fff" stroke="#0a0a0a" stroke-width="1.3"/>
<line x1="585.45" y1="719.80" x2="585.45" y2="699.90" stroke="#111" stroke-width="1.3"/>
<line x1="580.95" y1="699.90" x2="589.95" y2="699.90" stroke="#111" stroke-width="1.7"/>
<rect x="577.95" y="720.45" width="15.00" height="33.95" fill="#fff" stroke="#0a0a0a" stroke-width="1.3"/>
<line x1="577.95" y1="751.10" x2="592.95" y2="751.10" stroke="#444" stroke-width="1.0"/>
<line x1="577.95" y1="747.80" x2="592.95" y2="747.80" stroke="#444" stroke-width="1.0"/>
<line x1="577.95" y1="744.50" x2="592.95" y2="744.50" stroke="#444" stroke-width="1.0"/>
<line x1="577.95" y1="741.20" x2="592.95" y2="741.20" stroke="#444" stroke-width="1.0"/>
<line x1="577.95" y1="737.90" x2="592.95" y2="737.90" stroke="#444" stroke-width="1.0"/>
<line x1="577.95" y1="734.60" x2="592.95" y2="734.60" stroke="#444" stroke-width="1.0"/>
<line x1="577.95" y1="731.30" x2="592.95" y2="731.30" stroke="#444" stroke-width="1.0"/>
<line x1="577.95" y1="728.00" x2="592.95" y2="728.00" stroke="#444" stroke-width="1.0"/>
<line x1="577.95" y1="724.70" x2="592.95" y2="724.70" stroke="#444" stroke-width="1.0"/>
<line x1="577.95" y1="721.40" x2="592.95" y2="721.40" stroke="#444" stroke-width="1.0"/>
<line x1="604.55" y1="757.30" x2="604.55" y2="772.00" stroke="#111" stroke-width="1.3"/>
<line x1="600.05" y1="772.00" x2="609.05" y2="772.00" stroke="#111" stroke-width="1.7"/>
<rect x="597.05" y="754.40" width="15.00" height="2.25" fill="#fff" stroke="#0a0a0a" stroke-width="1.3"/>
<line x1="599.66" y1="754.40" x2="599.66" y2="756.65" stroke="#555" stroke-width="1.0"/>
<line x1="602.92" y1="754.40" x2="602.92" y2="756.65" stroke="#555" stroke-width="1.0"/>
<line x1="606.18" y1="754.40" x2="606.18" y2="756.65" stroke="#555" stroke-width="1.0"/>
<line x1="609.44" y1="754.40" x2="609.44" y2="756.65" stroke="#555" stroke-width="1.0"/>
<line x1="575.90" y1="754.40" x2="575.90" y2="757.90" stroke="#222" stroke-width="1.2"/>
<line x1="630.45" y1="753.80" x2="630.45" y2="745.90" stroke="#111" stroke-width="1.3"/>
<line x1="625.95" y1="745.90" x2="634.95" y2="745.90" stroke="#111" stroke-width="1.7"/>
<rect x="622.00" y="753.30" width="16.90" height="1.10" fill="#000"/>
<line x1="649.55" y1="750.80" x2="649.55" y2="725.60" stroke="#111" stroke-width="1.3"/>
<line x1="645.05" y1="725.60" x2="654.05" y2="725.60" stroke="#111" stroke-width="1.7"/>
<rect x="642.05" y="751.45" width="15.00" height="2.95" fill="#fff" stroke="#0a0a0a" stroke-width="1.3"/>
<line x1="668.65" y1="718.80" x2="668.65" y2="699.00" stroke="#111" stroke-width="1.3"/>
<line x1="664.15" y1="699.00" x2="673.15" y2="699.00" stroke="#111" stroke-width="1.7"/>
<rect x="661.15" y="719.45" width="15.00" height="34.95" fill="#fff" stroke="#0a0a0a" stroke-width="1.3"/>
<line x1="661.15" y1="751.10" x2="676.15" y2="751.10" stroke="#444" stroke-width="1.0"/>
<line x1="661.15" y1="747.80" x2="676.15" y2="747.80" stroke="#444" stroke-width="1.0"/>
<line x1="661.15" y1="744.50" x2="676.15" y2="744.50" stroke="#444" stroke-width="1.0"/>
<line x1="661.15" y1="741.20" x2="676.15" y2="741.20" stroke="#444" stroke-width="1.0"/>
<line x1="661.15" y1="737.90" x2="676.15" y2="737.90" stroke="#444" stroke-width="1.0"/>
<line x1="661.15" y1="734.60" x2="676.15" y2="734.60" stroke="#444" stroke-width="1.0"/>
<line x1="661.15" y1="731.30" x2="676.15" y2="731.30" stroke="#444" stroke-width="1.0"/>
<line x1="661.15" y1="728.00" x2="676.15" y2="728.00" stroke="#444" stroke-width="1.0"/>
<line x1="661.15" y1="724.70" x2="676.15" y2="724.70" stroke="#444" stroke-width="1.0"/>
<line x1="661.15" y1="721.40" x2="676.15" y2="721.40" stroke="#444" stroke-width="1.0"/>
<line x1="687.75" y1="706.90" x2="687.75" y2="680.10" stroke="#111" stroke-width="1.3"/>
<line x1="683.25" y1="680.10" x2="692.25" y2="680.10" stroke="#111" stroke-width="1.7"/>
<rect x="680.25" y="707.55" width="15.00" height="46.85" fill="#fff" stroke="#0a0a0a" stroke-width="1.3"/>
<line x1="682.86" y1="707.55" x2="682.86" y2="754.40" stroke="#555" stroke-width="1.0"/>
<line x1="686.12" y1="707.55" x2="686.12" y2="754.40" stroke="#555" stroke-width="1.0"/>
<line x1="689.38" y1="707.55" x2="689.38" y2="754.40" stroke="#555" stroke-width="1.0"/>
<line x1="692.64" y1="707.55" x2="692.64" y2="754.40" stroke="#555" stroke-width="1.0"/>
<line x1="659.10" y1="754.40" x2="659.10" y2="757.90" stroke="#222" stroke-width="1.2"/>
<line x1="713.65" y1="754.40" x2="713.65" y2="768.80" stroke="#111" stroke-width="1.3"/>
<line x1="709.15" y1="768.80" x2="718.15" y2="768.80" stroke="#111" stroke-width="1.7"/>
<line x1="732.75" y1="739.10" x2="732.75" y2="732.80" stroke="#111" stroke-width="1.3"/>
<line x1="728.25" y1="732.80" x2="737.25" y2="732.80" stroke="#111" stroke-width="1.7"/>
<rect x="725.25" y="739.75" width="15.00" height="14.65" fill="#fff" stroke="#0a0a0a" stroke-width="1.3"/>
<line x1="751.85" y1="732.30" x2="751.85" y2="728.50" stroke="#111" stroke-width="1.3"/>
<line x1="747.35" y1="728.50" x2="756.35" y2="728.50" stroke="#111" stroke-width="1.7"/>
<rect x="744.35" y="732.95" width="15.00" height="21.45" fill="#fff" stroke="#0a0a0a" stroke-width="1.3"/>
<line x1="744.35" y1="751.10" x2="759.35" y2="751.10" stroke="#444" stroke-width="1.0"/>
<line x1="744.35" y1="747.80" x2="759.35" y2="747.80" stroke="#444" stroke-width="1.0"/>
<line x1="744.35" y1="744.50" x2="759.35" y2="744.50" stroke="#444" stroke-width="1.0"/>
<line x1="744.35" y1="741.20" x2="759.35" y2="741.20" stroke="#444" stroke-width="1.0"/>
<line x1="744.35" y1="737.90" x2="759.35" y2="737.90" stroke="#444" stroke-width="1.0"/>
<line x1="744.35" y1="734.60" x2="759.35" y2="734.60" stroke="#444" stroke-width="1.0"/>
<line x1="770.95" y1="738.00" x2="770.95" y2="711.60" stroke="#111" stroke-width="1.3"/>
<line x1="766.45" y1="711.60" x2="775.45" y2="711.60" stroke="#111" stroke-width="1.7"/>
<rect x="763.45" y="738.65" width="15.00" height="15.75" fill="#fff" stroke="#0a0a0a" stroke-width="1.3"/>
<line x1="766.06" y1="738.65" x2="766.06" y2="754.40" stroke="#555" stroke-width="1.0"/>
<line x1="769.32" y1="738.65" x2="769.32" y2="754.40" stroke="#555" stroke-width="1.0"/>
<line x1="772.58" y1="738.65" x2="772.58" y2="754.40" stroke="#555" stroke-width="1.0"/>
<line x1="775.84" y1="738.65" x2="775.84" y2="754.40" stroke="#555" stroke-width="1.0"/>
<line x1="742.30" y1="754.40" x2="742.30" y2="757.90" stroke="#222" stroke-width="1.2"/>
<text transform="translate(489.25,775.75) rotate(-45)" text-anchor="middle" dy="3.49" font-size="10" font-weight="bold">30</text>
<text transform="translate(572.9,775.8) rotate(-45)" text-anchor="middle" dy="3.49" font-size="10" font-weight="bold">60</text>
<text transform="translate(656.7,775.1) rotate(-45)" text-anchor="middle" dy="3.49" font-size="10" font-weight="bold">90</text>
<text transform="translate(737.7,777.4) rotate(-45)" text-anchor="middle" dy="3.49" font-size="10" font-weight="bold">120</text>
<text x="588.00" y="787.10" font-size="10" font-weight="bold" font-style="normal" text-anchor="start" textLength="21.5" lengthAdjust="spacingAndGlyphs" >Time</text>
<text x="616.00" y="787.10" font-size="10" font-weight="bold" font-style="normal" text-anchor="start" textLength="22.6" lengthAdjust="spacingAndGlyphs" >(min)</text>
</g>
</svg>
</body></html>
